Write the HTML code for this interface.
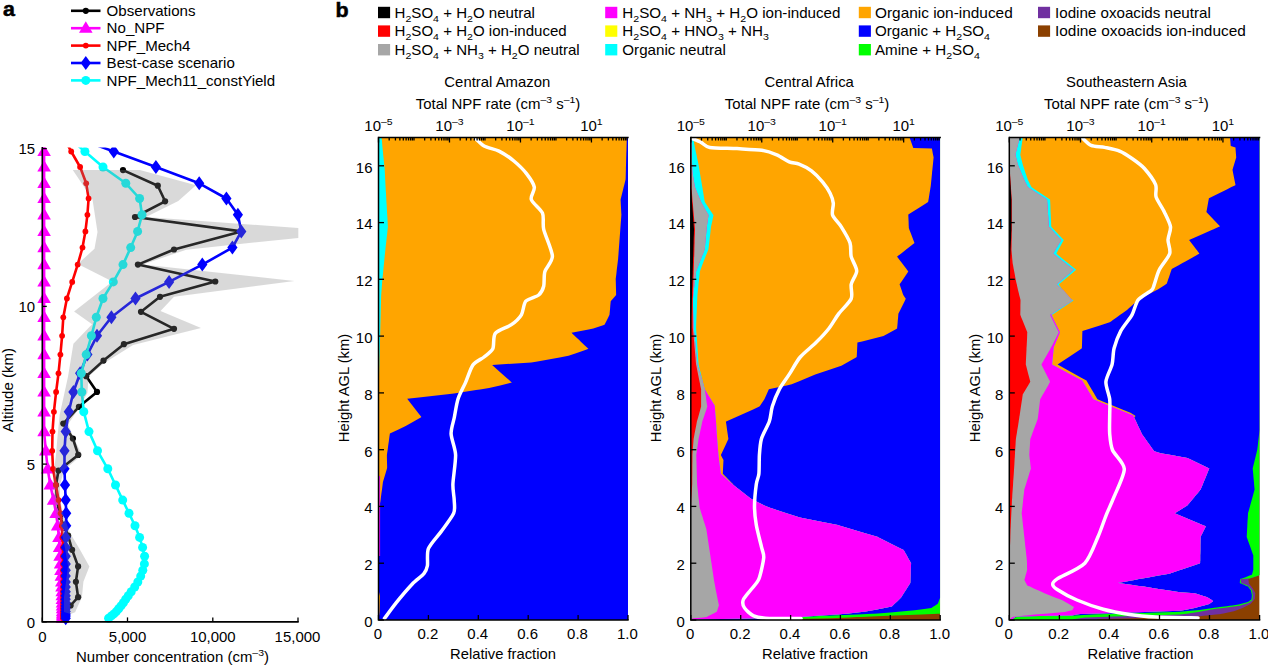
<!DOCTYPE html>
<html><head><meta charset="utf-8"><title>Figure</title>
<style>html,body{margin:0;padding:0;background:#fff;}body{width:1268px;height:665px;overflow:hidden;font-family:"Liberation Sans",sans-serif;}svg{display:block}text{font-family:"Liberation Sans",sans-serif;}</style>
</head><body>
<svg width="1268" height="665" viewBox="0 0 1268 665" font-family="Liberation Sans, sans-serif"><text transform="translate(3.00,16.30) scale(1.1,1)" text-anchor="start" font-size="19.5" font-weight="bold" fill="#000" stroke="#000" stroke-width="0.5">a</text>
<line x1="71" x2="100.5" y1="10.8" y2="10.8" stroke="#000" stroke-width="2.6"/>
<circle cx="85.8" cy="10.8" r="3.1" fill="#000"/>
<text transform="translate(106.60,16.00) scale(1.078,1)" text-anchor="start" font-size="14.0" font-weight="normal" fill="#000">Observations</text>
<line x1="71" x2="100.5" y1="28.2" y2="28.2" stroke="#ff00ff" stroke-width="2.6"/>
<polygon points="79.0,32.8 92.6,32.8 85.8,21.2" fill="#ff00ff"/>
<text transform="translate(106.60,33.40) scale(1.078,1)" text-anchor="start" font-size="14.0" font-weight="normal" fill="#000">No_NPF</text>
<line x1="71" x2="100.5" y1="45.6" y2="45.6" stroke="#ff0000" stroke-width="2.6"/>
<circle cx="85.8" cy="45.6" r="2.9" fill="#ff0000"/>
<text transform="translate(106.60,50.80) scale(1.078,1)" text-anchor="start" font-size="14.0" font-weight="normal" fill="#000">NPF_Mech4</text>
<line x1="71" x2="100.5" y1="63.0" y2="63.0" stroke="#0000ff" stroke-width="2.6"/>
<polygon points="80.7,63.0 85.8,56.0 90.9,63.0 85.8,70.0" fill="#0000ff"/>
<text transform="translate(106.60,68.20) scale(1.078,1)" text-anchor="start" font-size="14.0" font-weight="normal" fill="#000">Best-case scenario</text>
<line x1="71" x2="100.5" y1="80.4" y2="80.4" stroke="#00ffff" stroke-width="2.6"/>
<circle cx="85.8" cy="80.4" r="4.5" fill="#00ffff"/>
<text transform="translate(106.60,85.60) scale(1.078,1)" text-anchor="start" font-size="14.0" font-weight="normal" fill="#000">NPF_Mech11_constYield</text>
<clipPath id="ca"><rect x="30" y="147.4" width="276" height="486"/></clipPath>
<g clip-path="url(#ca)">
<polyline points="123.0,170.1 157.8,185.7 165.1,201.3 135.0,217.0 241.3,231.4 174.0,249.5 137.9,264.6 215.3,281.5 160.0,296.8 141.0,311.8 174.0,328.8 123.9,344.2 103.5,360.6 86.2,376.2 97.0,391.9 78.9,406.8 63.3,423.6 72.9,438.5 78.2,454.9 58.5,470.5 56.0,485.0 57.0,500.0 60.0,517.0 65.0,528.0 68.1,535.5 72.1,549.8 78.1,566.4 75.9,581.8 78.1,597.2 70.6,605.5 66.0,611.0" fill="none" stroke="#000" stroke-width="2.6" stroke-linejoin="round"/>
<circle cx="123.0" cy="170.1" r="3.1" fill="#000"/>
<circle cx="157.8" cy="185.7" r="3.1" fill="#000"/>
<circle cx="165.1" cy="201.3" r="3.1" fill="#000"/>
<circle cx="135.0" cy="217.0" r="3.1" fill="#000"/>
<circle cx="241.3" cy="231.4" r="3.1" fill="#000"/>
<circle cx="174.0" cy="249.5" r="3.1" fill="#000"/>
<circle cx="137.9" cy="264.6" r="3.1" fill="#000"/>
<circle cx="215.3" cy="281.5" r="3.1" fill="#000"/>
<circle cx="160.0" cy="296.8" r="3.1" fill="#000"/>
<circle cx="141.0" cy="311.8" r="3.1" fill="#000"/>
<circle cx="174.0" cy="328.8" r="3.1" fill="#000"/>
<circle cx="123.9" cy="344.2" r="3.1" fill="#000"/>
<circle cx="103.5" cy="360.6" r="3.1" fill="#000"/>
<circle cx="86.2" cy="376.2" r="3.1" fill="#000"/>
<circle cx="97.0" cy="391.9" r="3.1" fill="#000"/>
<circle cx="78.9" cy="406.8" r="3.1" fill="#000"/>
<circle cx="63.3" cy="423.6" r="3.1" fill="#000"/>
<circle cx="72.9" cy="438.5" r="3.1" fill="#000"/>
<circle cx="78.2" cy="454.9" r="3.1" fill="#000"/>
<circle cx="58.5" cy="470.5" r="3.1" fill="#000"/>
<circle cx="56.0" cy="485.0" r="3.1" fill="#000"/>
<circle cx="57.0" cy="500.0" r="3.1" fill="#000"/>
<circle cx="60.0" cy="517.0" r="3.1" fill="#000"/>
<circle cx="65.0" cy="528.0" r="3.1" fill="#000"/>
<circle cx="68.1" cy="535.5" r="3.1" fill="#000"/>
<circle cx="72.1" cy="549.8" r="3.1" fill="#000"/>
<circle cx="78.1" cy="566.4" r="3.1" fill="#000"/>
<circle cx="75.9" cy="581.8" r="3.1" fill="#000"/>
<circle cx="78.1" cy="597.2" r="3.1" fill="#000"/>
<circle cx="70.6" cy="605.5" r="3.1" fill="#000"/>
<circle cx="66.0" cy="611.0" r="3.1" fill="#000"/>
<polyline points="44.1,140.0 44.1,151.5 44.1,167.0 44.1,183.3 44.1,198.5 44.1,214.8 44.1,231.4 44.1,247.6 44.1,264.6 44.1,281.9 44.1,298.5 44.1,317.3 44.1,335.8 44.1,354.6 44.1,373.3 44.1,392.0 44.1,411.8 44.1,431.6 45.8,450.8 47.7,468.8 50.3,485.0 53.6,500.1 56.1,513.3 57.7,525.8 59.0,537.4 59.6,547.4 60.1,556.2 60.6,563.9 61.0,570.3 61.4,576.1 61.8,582.0 62.0,587.0 62.2,591.7 62.3,595.7 62.4,599.3 62.5,602.8 62.5,605.9 62.6,608.7 62.6,611.6 62.6,613.9 62.6,615.9 62.6,618.2" fill="none" stroke="#ff00ff" stroke-width="2.6" stroke-linejoin="round"/>
<polygon points="37.3,156.1 50.9,156.1 44.1,144.5" fill="#ff00ff"/>
<polygon points="37.3,171.6 50.9,171.6 44.1,160.0" fill="#ff00ff"/>
<polygon points="37.3,187.9 50.9,187.9 44.1,176.3" fill="#ff00ff"/>
<polygon points="37.3,203.1 50.9,203.1 44.1,191.5" fill="#ff00ff"/>
<polygon points="37.3,219.4 50.9,219.4 44.1,207.8" fill="#ff00ff"/>
<polygon points="37.3,236.0 50.9,236.0 44.1,224.4" fill="#ff00ff"/>
<polygon points="37.3,252.2 50.9,252.2 44.1,240.6" fill="#ff00ff"/>
<polygon points="37.3,269.2 50.9,269.2 44.1,257.6" fill="#ff00ff"/>
<polygon points="37.3,286.5 50.9,286.5 44.1,274.9" fill="#ff00ff"/>
<polygon points="37.3,303.1 50.9,303.1 44.1,291.5" fill="#ff00ff"/>
<polygon points="37.3,321.9 50.9,321.9 44.1,310.3" fill="#ff00ff"/>
<polygon points="37.3,340.4 50.9,340.4 44.1,328.8" fill="#ff00ff"/>
<polygon points="37.3,359.2 50.9,359.2 44.1,347.6" fill="#ff00ff"/>
<polygon points="37.3,377.9 50.9,377.9 44.1,366.3" fill="#ff00ff"/>
<polygon points="37.3,396.6 50.9,396.6 44.1,385.0" fill="#ff00ff"/>
<polygon points="37.3,416.4 50.9,416.4 44.1,404.8" fill="#ff00ff"/>
<polygon points="37.3,436.2 50.9,436.2 44.1,424.6" fill="#ff00ff"/>
<polygon points="39.0,455.4 52.6,455.4 45.8,443.8" fill="#ff00ff"/>
<polygon points="40.9,473.4 54.5,473.4 47.7,461.8" fill="#ff00ff"/>
<polygon points="43.5,489.6 57.1,489.6 50.3,478.0" fill="#ff00ff"/>
<polygon points="46.8,504.7 60.4,504.7 53.6,493.1" fill="#ff00ff"/>
<polygon points="49.3,517.9 62.9,517.9 56.1,506.3" fill="#ff00ff"/>
<polygon points="50.9,530.4 64.5,530.4 57.7,518.8" fill="#ff00ff"/>
<polygon points="52.2,542.0 65.8,542.0 59.0,530.4" fill="#ff00ff"/>
<polygon points="52.8,552.0 66.4,552.0 59.6,540.4" fill="#ff00ff"/>
<polygon points="53.3,560.8 66.9,560.8 60.1,549.2" fill="#ff00ff"/>
<polygon points="53.8,568.5 67.4,568.5 60.6,556.9" fill="#ff00ff"/>
<polygon points="54.2,574.9 67.8,574.9 61.0,563.3" fill="#ff00ff"/>
<polygon points="54.6,580.7 68.2,580.7 61.4,569.1" fill="#ff00ff"/>
<polygon points="55.0,586.6 68.6,586.6 61.8,575.0" fill="#ff00ff"/>
<polygon points="55.2,591.6 68.8,591.6 62.0,580.0" fill="#ff00ff"/>
<polygon points="55.4,596.3 69.0,596.3 62.2,584.7" fill="#ff00ff"/>
<polygon points="55.5,600.3 69.1,600.3 62.3,588.7" fill="#ff00ff"/>
<polygon points="55.6,603.9 69.2,603.9 62.4,592.3" fill="#ff00ff"/>
<polygon points="55.7,607.4 69.3,607.4 62.5,595.8" fill="#ff00ff"/>
<polygon points="55.7,610.5 69.3,610.5 62.5,598.9" fill="#ff00ff"/>
<polygon points="55.8,613.3 69.4,613.3 62.6,601.7" fill="#ff00ff"/>
<polygon points="55.8,616.2 69.4,616.2 62.6,604.6" fill="#ff00ff"/>
<polygon points="55.8,618.5 69.4,618.5 62.6,606.9" fill="#ff00ff"/>
<polygon points="55.8,620.5 69.4,620.5 62.6,608.9" fill="#ff00ff"/>
<polygon points="55.8,622.8 69.4,622.8 62.6,611.2" fill="#ff00ff"/>
<polyline points="64.0,138.0 71.2,151.5 80.1,167.0 86.2,183.3 88.6,198.5 87.4,214.8 85.4,231.4 82.5,247.6 77.7,264.6 72.2,281.9 66.9,298.5 63.3,317.3 62.1,335.8 60.4,354.6 58.5,373.3 56.1,392.0 53.9,411.8 52.5,431.6 52.2,450.8 53.0,468.8 55.9,485.0 58.6,500.1 60.6,513.3 61.8,525.8 62.4,537.4 63.0,547.4 63.0,556.2 63.0,563.9 63.0,570.3 63.0,576.1 63.0,582.0 63.0,587.0 63.0,591.7 63.0,595.7 63.0,599.3 63.0,602.8 63.0,605.9 63.0,608.7 63.0,611.6 63.0,613.9 63.0,615.9 63.0,618.2" fill="none" stroke="#ff0000" stroke-width="2.6" stroke-linejoin="round"/>
<circle cx="71.2" cy="151.5" r="2.9" fill="#ff0000"/>
<circle cx="80.1" cy="167.0" r="2.9" fill="#ff0000"/>
<circle cx="86.2" cy="183.3" r="2.9" fill="#ff0000"/>
<circle cx="88.6" cy="198.5" r="2.9" fill="#ff0000"/>
<circle cx="87.4" cy="214.8" r="2.9" fill="#ff0000"/>
<circle cx="85.4" cy="231.4" r="2.9" fill="#ff0000"/>
<circle cx="82.5" cy="247.6" r="2.9" fill="#ff0000"/>
<circle cx="77.7" cy="264.6" r="2.9" fill="#ff0000"/>
<circle cx="72.2" cy="281.9" r="2.9" fill="#ff0000"/>
<circle cx="66.9" cy="298.5" r="2.9" fill="#ff0000"/>
<circle cx="63.3" cy="317.3" r="2.9" fill="#ff0000"/>
<circle cx="62.1" cy="335.8" r="2.9" fill="#ff0000"/>
<circle cx="60.4" cy="354.6" r="2.9" fill="#ff0000"/>
<circle cx="58.5" cy="373.3" r="2.9" fill="#ff0000"/>
<circle cx="56.1" cy="392.0" r="2.9" fill="#ff0000"/>
<circle cx="53.9" cy="411.8" r="2.9" fill="#ff0000"/>
<circle cx="52.5" cy="431.6" r="2.9" fill="#ff0000"/>
<circle cx="52.2" cy="450.8" r="2.9" fill="#ff0000"/>
<circle cx="53.0" cy="468.8" r="2.9" fill="#ff0000"/>
<circle cx="55.9" cy="485.0" r="2.9" fill="#ff0000"/>
<circle cx="58.6" cy="500.1" r="2.9" fill="#ff0000"/>
<circle cx="60.6" cy="513.3" r="2.9" fill="#ff0000"/>
<circle cx="61.8" cy="525.8" r="2.9" fill="#ff0000"/>
<circle cx="62.4" cy="537.4" r="2.9" fill="#ff0000"/>
<circle cx="63.0" cy="547.4" r="2.9" fill="#ff0000"/>
<circle cx="63.0" cy="556.2" r="2.9" fill="#ff0000"/>
<circle cx="63.0" cy="563.9" r="2.9" fill="#ff0000"/>
<circle cx="63.0" cy="570.3" r="2.9" fill="#ff0000"/>
<circle cx="63.0" cy="576.1" r="2.9" fill="#ff0000"/>
<circle cx="63.0" cy="582.0" r="2.9" fill="#ff0000"/>
<circle cx="63.0" cy="587.0" r="2.9" fill="#ff0000"/>
<circle cx="63.0" cy="591.7" r="2.9" fill="#ff0000"/>
<circle cx="63.0" cy="595.7" r="2.9" fill="#ff0000"/>
<circle cx="63.0" cy="599.3" r="2.9" fill="#ff0000"/>
<circle cx="63.0" cy="602.8" r="2.9" fill="#ff0000"/>
<circle cx="63.0" cy="605.9" r="2.9" fill="#ff0000"/>
<circle cx="63.0" cy="608.7" r="2.9" fill="#ff0000"/>
<circle cx="63.0" cy="611.6" r="2.9" fill="#ff0000"/>
<circle cx="63.0" cy="613.9" r="2.9" fill="#ff0000"/>
<circle cx="63.0" cy="615.9" r="2.9" fill="#ff0000"/>
<circle cx="63.0" cy="618.2" r="2.9" fill="#ff0000"/>
<polyline points="78.0,138.5 113.8,151.5 155.9,167.0 199.2,183.3 226.4,198.5 237.9,214.8 241.3,231.4 232.4,247.6 202.3,264.6 169.1,281.9 135.5,298.5 111.4,317.3 97.0,335.8 87.4,354.6 80.1,373.3 73.4,392.0 68.8,411.8 65.7,431.6 64.5,450.8 64.5,468.8 65.0,485.0 65.7,500.1 66.2,513.3 66.2,525.8 65.7,537.4 65.7,547.4 65.7,556.2 65.7,563.9 65.7,570.3 65.7,576.1 65.7,582.0 65.7,587.0 65.7,591.7 65.7,595.7 65.7,599.3 65.7,602.8 65.7,605.9 65.7,608.7 65.7,611.6 65.7,613.9 65.7,615.9 65.7,618.2" fill="none" stroke="#0000ff" stroke-width="2.6" stroke-linejoin="round"/>
<polygon points="108.7,151.5 113.8,144.5 118.9,151.5 113.8,158.5" fill="#0000ff"/>
<polygon points="150.8,167.0 155.9,160.0 161.0,167.0 155.9,174.0" fill="#0000ff"/>
<polygon points="194.1,183.3 199.2,176.3 204.3,183.3 199.2,190.3" fill="#0000ff"/>
<polygon points="221.3,198.5 226.4,191.5 231.5,198.5 226.4,205.5" fill="#0000ff"/>
<polygon points="232.8,214.8 237.9,207.8 243.0,214.8 237.9,221.8" fill="#0000ff"/>
<polygon points="236.2,231.4 241.3,224.4 246.4,231.4 241.3,238.4" fill="#0000ff"/>
<polygon points="227.3,247.6 232.4,240.6 237.5,247.6 232.4,254.6" fill="#0000ff"/>
<polygon points="197.2,264.6 202.3,257.6 207.4,264.6 202.3,271.6" fill="#0000ff"/>
<polygon points="164.0,281.9 169.1,274.9 174.2,281.9 169.1,288.9" fill="#0000ff"/>
<polygon points="130.4,298.5 135.5,291.5 140.6,298.5 135.5,305.5" fill="#0000ff"/>
<polygon points="106.3,317.3 111.4,310.3 116.5,317.3 111.4,324.3" fill="#0000ff"/>
<polygon points="91.9,335.8 97.0,328.8 102.1,335.8 97.0,342.8" fill="#0000ff"/>
<polygon points="82.3,354.6 87.4,347.6 92.5,354.6 87.4,361.6" fill="#0000ff"/>
<polygon points="75.0,373.3 80.1,366.3 85.2,373.3 80.1,380.3" fill="#0000ff"/>
<polygon points="68.3,392.0 73.4,385.0 78.5,392.0 73.4,399.0" fill="#0000ff"/>
<polygon points="63.7,411.8 68.8,404.8 73.9,411.8 68.8,418.8" fill="#0000ff"/>
<polygon points="60.6,431.6 65.7,424.6 70.8,431.6 65.7,438.6" fill="#0000ff"/>
<polygon points="59.4,450.8 64.5,443.8 69.6,450.8 64.5,457.8" fill="#0000ff"/>
<polygon points="59.4,468.8 64.5,461.8 69.6,468.8 64.5,475.8" fill="#0000ff"/>
<polygon points="59.9,485.0 65.0,478.0 70.1,485.0 65.0,492.0" fill="#0000ff"/>
<polygon points="60.6,500.1 65.7,493.1 70.8,500.1 65.7,507.1" fill="#0000ff"/>
<polygon points="61.1,513.3 66.2,506.3 71.3,513.3 66.2,520.3" fill="#0000ff"/>
<polygon points="61.1,525.8 66.2,518.8 71.3,525.8 66.2,532.8" fill="#0000ff"/>
<polygon points="60.6,537.4 65.7,530.4 70.8,537.4 65.7,544.4" fill="#0000ff"/>
<polygon points="60.6,547.4 65.7,540.4 70.8,547.4 65.7,554.4" fill="#0000ff"/>
<polygon points="60.6,556.2 65.7,549.2 70.8,556.2 65.7,563.2" fill="#0000ff"/>
<polygon points="60.6,563.9 65.7,556.9 70.8,563.9 65.7,570.9" fill="#0000ff"/>
<polygon points="60.6,570.3 65.7,563.3 70.8,570.3 65.7,577.3" fill="#0000ff"/>
<polygon points="60.6,576.1 65.7,569.1 70.8,576.1 65.7,583.1" fill="#0000ff"/>
<polygon points="60.6,582.0 65.7,575.0 70.8,582.0 65.7,589.0" fill="#0000ff"/>
<polygon points="60.6,587.0 65.7,580.0 70.8,587.0 65.7,594.0" fill="#0000ff"/>
<polygon points="60.6,591.7 65.7,584.7 70.8,591.7 65.7,598.7" fill="#0000ff"/>
<polygon points="60.6,595.7 65.7,588.7 70.8,595.7 65.7,602.7" fill="#0000ff"/>
<polygon points="60.6,599.3 65.7,592.3 70.8,599.3 65.7,606.3" fill="#0000ff"/>
<polygon points="60.6,602.8 65.7,595.8 70.8,602.8 65.7,609.8" fill="#0000ff"/>
<polygon points="60.6,605.9 65.7,598.9 70.8,605.9 65.7,612.9" fill="#0000ff"/>
<polygon points="60.6,608.7 65.7,601.7 70.8,608.7 65.7,615.7" fill="#0000ff"/>
<polygon points="60.6,611.6 65.7,604.6 70.8,611.6 65.7,618.6" fill="#0000ff"/>
<polygon points="60.6,613.9 65.7,606.9 70.8,613.9 65.7,620.9" fill="#0000ff"/>
<polygon points="60.6,615.9 65.7,608.9 70.8,615.9 65.7,622.9" fill="#0000ff"/>
<polygon points="60.6,618.2 65.7,611.2 70.8,618.2 65.7,625.2" fill="#0000ff"/>
<polyline points="70.0,138.5 84.9,151.5 103.0,167.0 125.8,183.3 139.6,198.5 142.0,214.8 137.6,231.4 130.7,247.6 123.0,264.6 113.3,281.9 103.0,298.5 96.3,317.3 91.4,335.8 86.2,354.6 81.3,373.3 81.8,392.0 83.8,411.8 89.0,431.6 97.5,450.8 107.8,468.8 115.5,485.0 122.7,500.1 129.0,513.3 135.0,525.8 139.6,537.4 142.6,547.4 144.6,556.2 144.4,563.9 142.8,570.3 140.7,576.1 137.8,582.0 134.7,587.0 131.2,591.7 128.3,595.7 125.7,599.3 123.4,602.8 121.0,605.9 118.7,608.7 116.3,611.6 113.9,613.9 111.4,615.9 108.6,618.2" fill="none" stroke="#00ffff" stroke-width="2.6" stroke-linejoin="round"/>
<circle cx="84.9" cy="151.5" r="4.5" fill="#00ffff"/>
<circle cx="103.0" cy="167.0" r="4.5" fill="#00ffff"/>
<circle cx="125.8" cy="183.3" r="4.5" fill="#00ffff"/>
<circle cx="139.6" cy="198.5" r="4.5" fill="#00ffff"/>
<circle cx="142.0" cy="214.8" r="4.5" fill="#00ffff"/>
<circle cx="137.6" cy="231.4" r="4.5" fill="#00ffff"/>
<circle cx="130.7" cy="247.6" r="4.5" fill="#00ffff"/>
<circle cx="123.0" cy="264.6" r="4.5" fill="#00ffff"/>
<circle cx="113.3" cy="281.9" r="4.5" fill="#00ffff"/>
<circle cx="103.0" cy="298.5" r="4.5" fill="#00ffff"/>
<circle cx="96.3" cy="317.3" r="4.5" fill="#00ffff"/>
<circle cx="91.4" cy="335.8" r="4.5" fill="#00ffff"/>
<circle cx="86.2" cy="354.6" r="4.5" fill="#00ffff"/>
<circle cx="81.3" cy="373.3" r="4.5" fill="#00ffff"/>
<circle cx="81.8" cy="392.0" r="4.5" fill="#00ffff"/>
<circle cx="83.8" cy="411.8" r="4.5" fill="#00ffff"/>
<circle cx="89.0" cy="431.6" r="4.5" fill="#00ffff"/>
<circle cx="97.5" cy="450.8" r="4.5" fill="#00ffff"/>
<circle cx="107.8" cy="468.8" r="4.5" fill="#00ffff"/>
<circle cx="115.5" cy="485.0" r="4.5" fill="#00ffff"/>
<circle cx="122.7" cy="500.1" r="4.5" fill="#00ffff"/>
<circle cx="129.0" cy="513.3" r="4.5" fill="#00ffff"/>
<circle cx="135.0" cy="525.8" r="4.5" fill="#00ffff"/>
<circle cx="139.6" cy="537.4" r="4.5" fill="#00ffff"/>
<circle cx="142.6" cy="547.4" r="4.5" fill="#00ffff"/>
<circle cx="144.6" cy="556.2" r="4.5" fill="#00ffff"/>
<circle cx="144.4" cy="563.9" r="4.5" fill="#00ffff"/>
<circle cx="142.8" cy="570.3" r="4.5" fill="#00ffff"/>
<circle cx="140.7" cy="576.1" r="4.5" fill="#00ffff"/>
<circle cx="137.8" cy="582.0" r="4.5" fill="#00ffff"/>
<circle cx="134.7" cy="587.0" r="4.5" fill="#00ffff"/>
<circle cx="131.2" cy="591.7" r="4.5" fill="#00ffff"/>
<circle cx="128.3" cy="595.7" r="4.5" fill="#00ffff"/>
<circle cx="125.7" cy="599.3" r="4.5" fill="#00ffff"/>
<circle cx="123.4" cy="602.8" r="4.5" fill="#00ffff"/>
<circle cx="121.0" cy="605.9" r="4.5" fill="#00ffff"/>
<circle cx="118.7" cy="608.7" r="4.5" fill="#00ffff"/>
<circle cx="116.3" cy="611.6" r="4.5" fill="#00ffff"/>
<circle cx="113.9" cy="613.9" r="4.5" fill="#00ffff"/>
<circle cx="111.4" cy="615.9" r="4.5" fill="#00ffff"/>
<circle cx="108.6" cy="618.2" r="4.5" fill="#00ffff"/>
</g>
<polygon points="139.9,169.9 196.0,185.2 178.3,201.0 146.0,217.0 298.3,228.0 298.3,237.9 186.2,249.7 142.8,264.5 294.4,281.0 174.0,296.8 160.5,310.9 201.0,328.1 133.1,345.0 104.2,363.0 88.6,376.2 87.4,393.1 77.7,409.9 68.1,424.3 74.1,438.8 82.0,455.0 64.0,470.0 60.0,485.0 60.0,500.0 64.0,517.0 70.6,534.0 79.6,549.0 89.4,566.4 83.4,581.8 81.9,597.2 75.1,612.2 70.6,614.0 64.0,612.0 64.0,597.0 66.0,582.0 68.0,566.0 65.0,548.0 61.0,530.0 57.0,517.0 54.0,500.0 53.0,485.0 54.0,470.0 56.0,455.0 57.3,438.8 59.7,414.7 68.1,376.2 73.4,343.7 92.1,324.2 74.1,311.4 112.4,281.4 77.8,264.1 94.5,248.7 97.5,232.0 92.5,199.4 72.8,169.9" fill="rgb(128,128,128)" fill-opacity="0.3"/>
<path d="M42.3,147.1 V621.9 H298.7" fill="none" stroke="#000" stroke-width="1.6"/>
<line x1="42.3" x2="46.8" y1="621.9" y2="621.9" stroke="#000" stroke-width="1.3"/>
<text transform="translate(35.20,628.30) scale(1.07,1)" text-anchor="end" font-size="14.0" font-weight="normal" fill="#000">0</text>
<line x1="42.3" x2="46.8" y1="464.1" y2="464.1" stroke="#000" stroke-width="1.3"/>
<text transform="translate(35.20,469.80) scale(1.07,1)" text-anchor="end" font-size="14.0" font-weight="normal" fill="#000">5</text>
<line x1="42.3" x2="46.8" y1="306.4" y2="306.4" stroke="#000" stroke-width="1.3"/>
<text transform="translate(35.20,311.60) scale(1.07,1)" text-anchor="end" font-size="14.0" font-weight="normal" fill="#000">10</text>
<line x1="42.3" x2="46.8" y1="148.6" y2="148.6" stroke="#000" stroke-width="1.3"/>
<text transform="translate(35.20,153.50) scale(1.07,1)" text-anchor="end" font-size="14.0" font-weight="normal" fill="#000">15</text>
<line x1="42.3" x2="42.3" y1="621.9" y2="617.4" stroke="#000" stroke-width="1.3"/>
<text transform="translate(42.30,641.50) scale(1.07,1)" text-anchor="middle" font-size="14.0" font-weight="normal" fill="#000">0</text>
<line x1="127.5" x2="127.5" y1="621.9" y2="617.4" stroke="#000" stroke-width="1.3"/>
<text transform="translate(127.53,641.50) scale(1.07,1)" text-anchor="middle" font-size="14.0" font-weight="normal" fill="#000">5,000</text>
<line x1="212.8" x2="212.8" y1="621.9" y2="617.4" stroke="#000" stroke-width="1.3"/>
<text transform="translate(212.77,641.50) scale(1.07,1)" text-anchor="middle" font-size="14.0" font-weight="normal" fill="#000">10,000</text>
<line x1="298.0" x2="298.0" y1="621.9" y2="617.4" stroke="#000" stroke-width="1.3"/>
<text transform="translate(297.50,641.50) scale(1.07,1)" text-anchor="middle" font-size="14.0" font-weight="normal" fill="#000">15,000</text>
<text transform="translate(172.50,661.50) scale(1.07,1)" text-anchor="middle" font-size="14.0" font-weight="normal" fill="#000">Number concentration (cm<tspan font-size="9.8" dy="-5.6">&#8211;3</tspan><tspan dy="5.6" font-size="14.0">&#8203;</tspan>)</text>
<text transform="translate(12.50,390.20) rotate(-90) scale(1.073,1)" text-anchor="middle" font-size="14.0" font-weight="normal" fill="#000">Altitude (km)</text>
<text transform="translate(335.60,16.50) scale(1.1,1)" text-anchor="start" font-size="19.5" font-weight="bold" fill="#000" stroke="#000" stroke-width="0.5">b</text>
<rect x="378" y="6.8" width="12.1" height="11.4" fill="#000"/>
<text transform="translate(394.60,17.80) scale(1.077,1)" text-anchor="start" font-size="14.0" font-weight="normal" fill="#000">H<tspan font-size="9.8" dy="3.8">2</tspan><tspan dy="-3.8" font-size="14.0">&#8203;</tspan>SO<tspan font-size="9.8" dy="3.8">4</tspan><tspan dy="-3.8" font-size="14.0">&#8203;</tspan> + H<tspan font-size="9.8" dy="3.8">2</tspan><tspan dy="-3.8" font-size="14.0">&#8203;</tspan>O neutral</text>
<rect x="378" y="25.4" width="12.1" height="11.4" fill="#ff0000"/>
<text transform="translate(394.60,36.40) scale(1.077,1)" text-anchor="start" font-size="14.0" font-weight="normal" fill="#000">H<tspan font-size="9.8" dy="3.8">2</tspan><tspan dy="-3.8" font-size="14.0">&#8203;</tspan>SO<tspan font-size="9.8" dy="3.8">4</tspan><tspan dy="-3.8" font-size="14.0">&#8203;</tspan> + H<tspan font-size="9.8" dy="3.8">2</tspan><tspan dy="-3.8" font-size="14.0">&#8203;</tspan>O ion-induced</text>
<rect x="378" y="44.0" width="12.1" height="11.4" fill="#a6a6a6"/>
<text transform="translate(394.60,55.00) scale(1.077,1)" text-anchor="start" font-size="14.0" font-weight="normal" fill="#000">H<tspan font-size="9.8" dy="3.8">2</tspan><tspan dy="-3.8" font-size="14.0">&#8203;</tspan>SO<tspan font-size="9.8" dy="3.8">4</tspan><tspan dy="-3.8" font-size="14.0">&#8203;</tspan> + NH<tspan font-size="9.8" dy="3.8">3</tspan><tspan dy="-3.8" font-size="14.0">&#8203;</tspan> + H<tspan font-size="9.8" dy="3.8">2</tspan><tspan dy="-3.8" font-size="14.0">&#8203;</tspan>O neutral</text>
<rect x="605.2" y="6.8" width="12.1" height="11.4" fill="#ff00ff"/>
<text transform="translate(622.30,17.80) scale(1.083,1)" text-anchor="start" font-size="14.0" font-weight="normal" fill="#000">H<tspan font-size="9.8" dy="3.8">2</tspan><tspan dy="-3.8" font-size="14.0">&#8203;</tspan>SO<tspan font-size="9.8" dy="3.8">4</tspan><tspan dy="-3.8" font-size="14.0">&#8203;</tspan> + NH<tspan font-size="9.8" dy="3.8">3</tspan><tspan dy="-3.8" font-size="14.0">&#8203;</tspan> + H<tspan font-size="9.8" dy="3.8">2</tspan><tspan dy="-3.8" font-size="14.0">&#8203;</tspan>O ion-induced</text>
<rect x="605.2" y="25.4" width="12.1" height="11.4" fill="#ffff00"/>
<text transform="translate(622.30,36.40) scale(1.083,1)" text-anchor="start" font-size="14.0" font-weight="normal" fill="#000">H<tspan font-size="9.8" dy="3.8">2</tspan><tspan dy="-3.8" font-size="14.0">&#8203;</tspan>SO<tspan font-size="9.8" dy="3.8">4</tspan><tspan dy="-3.8" font-size="14.0">&#8203;</tspan> + HNO<tspan font-size="9.8" dy="3.8">3</tspan><tspan dy="-3.8" font-size="14.0">&#8203;</tspan> + NH<tspan font-size="9.8" dy="3.8">3</tspan><tspan dy="-3.8" font-size="14.0">&#8203;</tspan></text>
<rect x="605.2" y="44.0" width="12.1" height="11.4" fill="#00ffff"/>
<text transform="translate(622.30,55.00) scale(1.083,1)" text-anchor="start" font-size="14.0" font-weight="normal" fill="#000">Organic neutral</text>
<rect x="858.8" y="6.8" width="12.1" height="11.4" fill="#ffa500"/>
<text transform="translate(875.00,17.80) scale(1.1,1)" text-anchor="start" font-size="14.0" font-weight="normal" fill="#000">Organic ion-induced</text>
<rect x="858.8" y="25.4" width="12.1" height="11.4" fill="#0000ff"/>
<text transform="translate(875.00,36.40) scale(1.083,1)" text-anchor="start" font-size="14.0" font-weight="normal" fill="#000">Organic + H<tspan font-size="9.8" dy="3.8">2</tspan><tspan dy="-3.8" font-size="14.0">&#8203;</tspan>SO<tspan font-size="9.8" dy="3.8">4</tspan><tspan dy="-3.8" font-size="14.0">&#8203;</tspan></text>
<rect x="858.8" y="44.0" width="12.1" height="11.4" fill="#00ff00"/>
<text transform="translate(875.00,55.00) scale(1.083,1)" text-anchor="start" font-size="14.0" font-weight="normal" fill="#000">Amine + H<tspan font-size="9.8" dy="3.8">2</tspan><tspan dy="-3.8" font-size="14.0">&#8203;</tspan>SO<tspan font-size="9.8" dy="3.8">4</tspan><tspan dy="-3.8" font-size="14.0">&#8203;</tspan></text>
<rect x="1038" y="6.8" width="12.1" height="11.4" fill="#7030a0"/>
<text transform="translate(1055.00,17.80) scale(1.083,1)" text-anchor="start" font-size="14.0" font-weight="normal" fill="#000">Iodine oxoacids neutral</text>
<rect x="1038" y="25.4" width="12.1" height="11.4" fill="#8b4000"/>
<text transform="translate(1055.00,36.40) scale(1.1,1)" text-anchor="start" font-size="14.0" font-weight="normal" fill="#000">Iodine oxoacids ion-induced</text>
<clipPath id="c378"><rect x="378.5" y="137.4" width="249.5" height="482.6"/></clipPath>
<g clip-path="url(#c378)">
<polygon points="378.5,137.4 628.0,137.4 628.0,141.4 628.0,145.4 628.0,149.4 628.0,153.4 628.0,155.0 628.0,157.4 628.0,161.4 628.0,165.4 628.0,168.0 628.0,169.4 628.0,173.4 628.0,177.4 628.0,179.6 628.0,181.4 628.0,185.4 628.0,187.0 628.0,189.4 628.0,193.4 628.0,197.4 628.0,199.5 628.0,201.4 628.0,205.4 628.0,209.4 628.0,213.4 628.0,214.4 628.0,217.4 628.0,221.4 628.0,225.4 628.0,226.8 628.0,229.4 628.0,233.4 628.0,237.4 628.0,241.4 628.0,241.7 628.0,245.4 628.0,249.4 628.0,253.4 628.0,254.0 628.0,257.4 628.0,259.0 628.0,261.4 628.0,265.4 628.0,269.4 628.0,273.4 628.0,277.4 628.0,278.9 628.0,279.0 628.0,281.4 628.0,285.4 628.0,289.4 628.0,293.4 628.0,295.0 628.0,297.4 628.0,301.2 628.0,301.4 628.0,305.4 628.0,309.4 628.0,313.4 628.0,314.8 628.0,317.4 628.0,321.4 628.0,324.7 628.0,325.4 628.0,328.5 628.0,329.4 628.0,332.7 628.0,333.4 628.0,337.4 628.0,340.0 628.0,341.4 628.0,345.4 628.0,348.8 628.0,349.4 628.0,353.4 628.0,355.8 628.0,357.4 628.0,361.4 628.0,362.5 628.0,364.9 628.0,365.4 628.0,369.4 628.0,373.4 628.0,377.4 628.0,381.4 628.0,382.6 628.0,385.4 628.0,388.0 628.0,389.4 628.0,390.0 628.0,393.4 628.0,393.7 628.0,397.4 628.0,398.7 628.0,401.4 628.0,405.4 628.0,409.4 628.0,413.4 628.0,417.0 628.0,417.4 628.0,421.4 628.0,425.4 628.0,426.5 628.0,429.4 628.0,433.4 628.0,437.4 628.0,441.4 628.0,445.4 628.0,449.4 628.0,453.4 628.0,455.0 628.0,457.4 628.0,461.4 628.0,465.4 628.0,468.0 628.0,469.4 628.0,473.4 628.0,477.4 628.0,481.4 628.0,481.6 628.0,485.4 628.0,489.4 628.0,493.4 628.0,497.4 628.0,501.4 628.0,502.0 628.0,505.4 628.0,509.4 628.0,510.0 628.0,513.4 628.0,517.4 628.0,521.4 628.0,525.4 628.0,529.4 628.0,533.4 628.0,537.4 628.0,541.4 628.0,545.4 628.0,549.4 628.0,553.4 628.0,557.4 628.0,561.4 628.0,565.4 628.0,569.4 628.0,573.4 628.0,577.4 628.0,581.4 628.0,585.4 628.0,589.4 628.0,590.0 628.0,593.4 628.0,596.0 628.0,597.4 628.0,601.4 628.0,605.4 628.0,609.4 628.0,612.0 628.0,613.4 628.0,617.4 628.0,619.5 628.0,620.0 378.5,620.0" fill="#0000ff"/>
<polygon points="378.5,137.4 626.8,137.4 626.7,141.4 626.6,145.4 626.5,149.4 626.3,153.4 626.3,155.0 626.2,157.4 626.1,161.4 626.0,165.4 625.9,168.0 625.9,169.4 625.8,173.4 625.7,177.4 625.6,179.6 625.1,181.4 624.1,185.4 623.7,187.0 623.1,189.4 622.1,193.4 621.1,197.4 620.6,199.5 620.7,201.4 620.9,205.4 621.1,209.4 621.3,213.4 621.4,214.4 621.2,217.4 620.9,221.4 620.6,225.4 620.5,226.8 620.3,229.4 620.0,233.4 619.7,237.4 619.4,241.4 619.4,241.7 619.1,245.4 618.8,249.4 618.5,253.4 618.5,254.0 618.2,257.4 618.1,259.0 617.8,261.4 617.3,265.4 616.8,269.4 616.4,273.4 615.9,277.4 615.7,278.9 615.7,279.0 615.8,281.4 615.9,285.4 616.0,289.4 616.1,293.4 616.1,295.0 614.0,297.4 610.7,301.2 610.7,301.4 610.3,305.4 610.0,309.4 609.6,313.4 609.5,314.8 608.2,317.4 606.2,321.4 604.5,324.7 602.4,325.4 593.3,328.5 588.6,329.4 571.5,332.7 572.2,333.4 576.4,337.4 579.2,340.0 580.6,341.4 584.8,345.4 588.4,348.8 586.7,349.4 575.3,353.4 568.5,355.8 559.6,357.4 537.4,361.4 531.3,362.5 492.1,364.9 492.7,365.4 497.1,369.4 501.6,373.4 506.1,377.4 510.6,381.4 511.9,382.6 500.1,385.4 489.1,388.0 480.0,389.4 476.0,390.0 453.9,393.4 451.9,393.7 418.8,397.4 407.2,398.7 409.3,401.4 412.4,405.4 415.5,409.4 418.6,413.4 421.4,417.0 420.7,417.4 413.7,421.4 406.6,425.4 404.7,426.5 398.5,429.4 389.9,433.4 389.3,437.4 388.8,441.4 388.2,445.4 387.7,449.4 387.1,453.4 386.9,455.0 386.9,457.4 387.0,461.4 387.1,465.4 387.1,468.0 386.7,469.4 385.5,473.4 384.3,477.4 383.1,481.4 383.0,481.6 382.5,485.4 382.0,489.4 381.4,493.4 380.9,497.4 380.4,501.4 380.3,502.0 379.5,505.4 378.6,509.4 378.6,510.0 378.6,513.4 378.6,517.4 378.6,521.4 378.6,525.4 378.6,529.4 378.6,533.4 378.6,537.4 378.6,541.4 378.6,545.4 378.6,549.4 378.6,553.4 378.6,557.4 378.6,561.4 378.5,565.4 378.5,569.4 378.5,573.4 378.5,577.4 378.5,581.4 378.5,585.4 378.5,589.4 378.5,590.0 379.4,593.4 380.0,596.0 380.0,597.4 379.9,601.4 379.8,605.4 379.7,609.4 379.6,612.0 379.4,613.4 378.8,617.4 378.5,619.5 378.5,620.0 378.5,620.0" fill="#ffa500"/>
<polygon points="378.5,137.4 381.6,137.4 382.0,141.4 382.3,145.4 382.7,149.4 383.1,153.4 383.2,155.0 383.5,157.4 383.9,161.4 384.3,165.4 384.6,168.0 384.7,169.4 384.9,173.4 385.1,177.4 385.2,179.6 385.3,181.4 385.5,185.4 385.6,187.0 385.7,189.4 386.0,193.4 386.2,197.4 386.3,199.5 386.4,201.4 386.7,205.4 386.9,209.4 387.1,213.4 387.2,214.4 387.4,217.4 387.6,221.4 387.8,225.4 387.9,226.8 387.6,229.4 387.2,233.4 386.7,237.4 386.3,241.4 386.3,241.7 385.8,245.4 385.4,249.4 385.0,253.4 384.9,254.0 384.6,257.4 384.4,259.0 384.2,261.4 383.8,265.4 383.4,269.4 383.0,273.4 382.6,277.4 382.4,278.9 382.4,279.0 382.2,281.4 381.9,285.4 381.6,289.4 381.3,293.4 381.2,295.0 381.1,297.4 381.0,301.2 381.0,301.4 380.9,305.4 380.8,309.4 380.7,313.4 380.7,314.8 380.6,317.4 380.5,321.4 380.4,324.7 380.4,325.4 380.3,328.5 380.3,329.4 380.2,332.7 380.2,333.4 380.1,337.4 380.0,340.0 380.0,341.4 379.9,345.4 379.8,348.8 379.8,349.4 379.7,353.4 379.6,355.8 379.5,357.4 379.4,361.4 379.4,362.5 379.4,364.9 379.3,365.4 379.2,369.4 379.1,373.4 379.0,377.4 378.9,381.4 378.9,382.6 378.8,385.4 378.8,388.0 378.7,389.4 378.7,390.0 378.7,393.4 378.7,393.7 378.7,397.4 378.7,398.7 378.7,401.4 378.7,405.4 378.7,409.4 378.7,413.4 378.7,417.0 378.7,417.4 378.7,421.4 378.7,425.4 378.7,426.5 378.7,429.4 378.7,433.4 378.7,437.4 378.7,441.4 378.7,445.4 378.6,449.4 378.6,453.4 378.6,455.0 378.6,457.4 378.6,461.4 378.6,465.4 378.6,468.0 378.6,469.4 378.6,473.4 378.6,477.4 378.6,481.4 378.6,481.6 378.6,485.4 378.6,489.4 378.6,493.4 378.6,497.4 378.6,501.4 378.6,502.0 378.6,505.4 378.6,509.4 378.6,510.0 378.6,513.4 378.6,517.4 378.6,521.4 378.6,525.4 378.6,529.4 378.6,533.4 378.6,537.4 378.6,541.4 378.6,545.4 378.6,549.4 378.6,553.4 378.6,557.4 378.6,561.4 378.5,565.4 378.5,569.4 378.5,573.4 378.5,577.4 378.5,581.4 378.5,585.4 378.5,589.4 378.5,590.0 378.5,593.4 378.5,596.0 378.5,597.4 378.5,601.4 378.5,605.4 378.5,609.4 378.5,612.0 378.5,613.4 378.5,617.4 378.5,619.5 378.5,620.0 378.5,620.0" fill="#00ffff"/>
<line x1="379.6" x2="379.6" y1="476" y2="556" stroke="#ff00ff" stroke-width="1"/>
<path d="M473.0,136.0C474.5,137.3 480.6,144.1 484.1,146.1C487.6,148.1 495.0,149.1 499.0,151.1C503.0,153.1 510.3,158.0 513.9,161.0C517.5,164.0 523.6,169.9 526.3,173.4C529.0,176.9 533.6,183.6 534.3,187.1C535.0,190.6 530.2,196.0 531.3,199.5C532.4,203.0 540.8,209.1 542.5,213.1C544.2,217.1 542.4,223.6 543.7,229.3C545.0,235.0 552.2,250.5 552.4,256.1C552.6,261.7 546.1,267.4 544.9,271.4C543.7,275.4 544.5,283.2 543.7,286.3C542.9,289.4 541.1,293.0 538.7,295.0C536.3,297.0 528.1,298.6 525.8,301.2C523.5,303.8 523.3,311.7 521.4,314.8C519.5,317.9 514.9,322.2 511.4,324.7C507.9,327.2 497.8,330.2 495.3,333.4C492.8,336.6 494.3,345.7 492.8,348.8C491.3,351.9 486.7,354.9 484.1,357.0C481.5,359.1 475.5,361.5 473.0,364.9C470.5,368.3 467.5,378.1 465.5,382.6C463.5,387.1 459.6,394.1 458.1,398.7C456.6,403.3 455.3,412.3 454.4,417.0C453.5,421.7 450.9,428.8 451.1,433.9C451.3,439.0 455.4,448.3 455.6,455.0C455.8,461.7 453.1,478.2 452.9,484.2C452.7,490.2 454.1,496.1 454.2,500.0C454.3,503.9 455.4,509.0 453.7,513.2C452.0,517.4 444.5,526.9 441.1,531.6C437.7,536.3 430.2,544.1 428.4,548.7C426.6,553.3 428.0,562.5 427.4,565.8C426.8,569.1 425.9,571.2 423.9,573.7C421.9,576.2 415.8,580.3 412.1,584.2C408.4,588.1 400.0,598.0 396.3,602.6C392.6,607.2 386.1,616.3 384.5,618.4" fill="none" stroke="#fff" stroke-width="3.5" stroke-linejoin="round" stroke-linecap="round"/>
</g>
<path d="M378.5,136.70000000000002 V620.0 H628.7" fill="none" stroke="#000" stroke-width="1.5"/>
<line x1="378.5" x2="628.7" y1="137.4" y2="137.4" stroke="#000" stroke-width="1.5"/>
<line x1="378.5" x2="384.0" y1="620.0" y2="620.0" stroke="#000" stroke-width="1.3"/>
<text transform="translate(372.50,626.90) scale(1.07,1)" text-anchor="end" font-size="14.0" font-weight="normal" fill="#000">0</text>
<line x1="378.5" x2="384.0" y1="563.2" y2="563.2" stroke="#000" stroke-width="1.3"/>
<text transform="translate(372.50,570.12) scale(1.07,1)" text-anchor="end" font-size="14.0" font-weight="normal" fill="#000">2</text>
<line x1="378.5" x2="384.0" y1="506.4" y2="506.4" stroke="#000" stroke-width="1.3"/>
<text transform="translate(372.50,513.35) scale(1.07,1)" text-anchor="end" font-size="14.0" font-weight="normal" fill="#000">4</text>
<line x1="378.5" x2="384.0" y1="449.7" y2="449.7" stroke="#000" stroke-width="1.3"/>
<text transform="translate(372.50,456.57) scale(1.07,1)" text-anchor="end" font-size="14.0" font-weight="normal" fill="#000">6</text>
<line x1="378.5" x2="384.0" y1="392.9" y2="392.9" stroke="#000" stroke-width="1.3"/>
<text transform="translate(372.50,399.79) scale(1.07,1)" text-anchor="end" font-size="14.0" font-weight="normal" fill="#000">8</text>
<line x1="378.5" x2="384.0" y1="336.1" y2="336.1" stroke="#000" stroke-width="1.3"/>
<text transform="translate(372.50,343.02) scale(1.07,1)" text-anchor="end" font-size="14.0" font-weight="normal" fill="#000">10</text>
<line x1="378.5" x2="384.0" y1="279.3" y2="279.3" stroke="#000" stroke-width="1.3"/>
<text transform="translate(372.50,286.24) scale(1.07,1)" text-anchor="end" font-size="14.0" font-weight="normal" fill="#000">12</text>
<line x1="378.5" x2="384.0" y1="222.6" y2="222.6" stroke="#000" stroke-width="1.3"/>
<text transform="translate(372.50,229.46) scale(1.07,1)" text-anchor="end" font-size="14.0" font-weight="normal" fill="#000">14</text>
<line x1="378.5" x2="384.0" y1="165.8" y2="165.8" stroke="#000" stroke-width="1.3"/>
<text transform="translate(372.50,172.69) scale(1.07,1)" text-anchor="end" font-size="14.0" font-weight="normal" fill="#000">16</text>
<line x1="378.5" x2="378.5" y1="620.0" y2="615.0" stroke="#000" stroke-width="1.3"/>
<text transform="translate(377.90,639.30) scale(1.07,1)" text-anchor="middle" font-size="14.0" font-weight="normal" fill="#000">0</text>
<line x1="428.4" x2="428.4" y1="620.0" y2="615.0" stroke="#000" stroke-width="1.3"/>
<text transform="translate(427.80,639.30) scale(1.07,1)" text-anchor="middle" font-size="14.0" font-weight="normal" fill="#000">0.2</text>
<line x1="478.3" x2="478.3" y1="620.0" y2="615.0" stroke="#000" stroke-width="1.3"/>
<text transform="translate(477.70,639.30) scale(1.07,1)" text-anchor="middle" font-size="14.0" font-weight="normal" fill="#000">0.4</text>
<line x1="528.2" x2="528.2" y1="620.0" y2="615.0" stroke="#000" stroke-width="1.3"/>
<text transform="translate(527.60,639.30) scale(1.07,1)" text-anchor="middle" font-size="14.0" font-weight="normal" fill="#000">0.6</text>
<line x1="578.1" x2="578.1" y1="620.0" y2="615.0" stroke="#000" stroke-width="1.3"/>
<text transform="translate(577.50,639.30) scale(1.07,1)" text-anchor="middle" font-size="14.0" font-weight="normal" fill="#000">0.8</text>
<line x1="628.0" x2="628.0" y1="620.0" y2="615.0" stroke="#000" stroke-width="1.3"/>
<text transform="translate(627.40,639.30) scale(1.07,1)" text-anchor="middle" font-size="14.0" font-weight="normal" fill="#000">1.0</text>
<path d="M378.50,137.4v5 M389.18,137.4v3 M395.43,137.4v3 M399.87,137.4v3 M403.31,137.4v3 M406.12,137.4v3 M408.49,137.4v3 M410.55,137.4v3 M412.37,137.4v3 M413.99,137.4v3 M424.67,137.4v3 M430.92,137.4v3 M435.36,137.4v3 M438.80,137.4v3 M441.61,137.4v3 M443.98,137.4v3 M446.04,137.4v3 M447.86,137.4v3 M449.48,137.4v5 M460.17,137.4v3 M466.41,137.4v3 M470.85,137.4v3 M474.29,137.4v3 M477.10,137.4v3 M479.47,137.4v3 M481.53,137.4v3 M483.35,137.4v3 M484.97,137.4v3 M495.66,137.4v3 M501.91,137.4v3 M506.34,137.4v3 M509.78,137.4v3 M512.59,137.4v3 M514.97,137.4v3 M517.02,137.4v3 M518.84,137.4v3 M520.46,137.4v5 M531.15,137.4v3 M537.40,137.4v3 M541.83,137.4v3 M545.27,137.4v3 M548.08,137.4v3 M550.46,137.4v3 M552.51,137.4v3 M554.33,137.4v3 M555.95,137.4v3 M566.64,137.4v3 M572.89,137.4v3 M577.32,137.4v3 M580.76,137.4v3 M583.57,137.4v3 M585.95,137.4v3 M588.01,137.4v3 M589.82,137.4v3 M591.44,137.4v5 M602.13,137.4v3 M608.38,137.4v3 M612.81,137.4v3 M616.25,137.4v3 M619.06,137.4v3 M621.44,137.4v3 M623.50,137.4v3 M625.31,137.4v3 M626.94,137.4v3" stroke="#000" stroke-width="1.3" fill="none"/>
<text transform="translate(378.50,131.00) scale(1.07,1)" text-anchor="middle" font-size="14.0" font-weight="normal" fill="#000">10<tspan font-size="9.8" dy="-5.6">&#8211;5</tspan><tspan dy="5.6" font-size="14.0">&#8203;</tspan></text>
<text transform="translate(449.48,131.00) scale(1.07,1)" text-anchor="middle" font-size="14.0" font-weight="normal" fill="#000">10<tspan font-size="9.8" dy="-5.6">&#8211;3</tspan><tspan dy="5.6" font-size="14.0">&#8203;</tspan></text>
<text transform="translate(520.46,131.00) scale(1.07,1)" text-anchor="middle" font-size="14.0" font-weight="normal" fill="#000">10<tspan font-size="9.8" dy="-5.6">&#8211;1</tspan><tspan dy="5.6" font-size="14.0">&#8203;</tspan></text>
<text transform="translate(591.44,131.00) scale(1.07,1)" text-anchor="middle" font-size="14.0" font-weight="normal" fill="#000">10<tspan font-size="9.8" dy="-5.6">1</tspan><tspan dy="5.6" font-size="14.0">&#8203;</tspan></text>
<text transform="translate(497.30,86.50) scale(1.064,1)" text-anchor="middle" font-size="14.0" font-weight="normal" fill="#000">Central Amazon</text>
<text transform="translate(498.00,108.50) scale(1.07,1)" text-anchor="middle" font-size="14.0" font-weight="normal" fill="#000">Total NPF rate (cm<tspan font-size="9.8" dy="-5.6">&#8211;3</tspan><tspan dy="5.6" font-size="14.0">&#8203;</tspan> s<tspan font-size="9.8" dy="-5.6">&#8211;1</tspan><tspan dy="5.6" font-size="14.0">&#8203;</tspan>)</text>
<text transform="translate(503.00,658.50) scale(1.056,1)" text-anchor="middle" font-size="14.0" font-weight="normal" fill="#000">Relative fraction</text>
<text transform="translate(348.70,388.00) rotate(-90) scale(1.053,1)" text-anchor="middle" font-size="14.0" font-weight="normal" fill="#000">Height AGL (km)</text>
<clipPath id="c690"><rect x="690.8" y="137.4" width="249.4000000000001" height="482.6"/></clipPath>
<g clip-path="url(#c690)">
<polygon points="690.8,137.4 940.2,137.4 940.2,141.4 940.2,145.4 940.2,147.9 940.2,148.6 940.2,149.4 940.2,149.9 940.2,153.4 940.2,157.3 940.2,157.4 940.2,161.4 940.2,164.7 940.2,165.4 940.2,169.4 940.2,172.0 940.2,173.4 940.2,177.4 940.2,181.4 940.2,185.4 940.2,187.0 940.2,187.1 940.2,188.0 940.2,189.4 940.2,193.4 940.2,197.4 940.2,201.4 940.2,202.0 940.2,205.4 940.2,209.4 940.2,213.4 940.2,214.4 940.2,215.0 940.2,215.1 940.2,217.4 940.2,221.4 940.2,225.4 940.2,226.8 940.2,228.0 940.2,229.0 940.2,229.4 940.2,233.4 940.2,237.4 940.2,241.4 940.2,242.9 940.2,245.4 940.2,249.0 940.2,249.1 940.2,249.4 940.2,253.4 940.2,256.6 940.2,257.4 940.2,261.4 940.2,261.5 940.2,265.4 940.2,269.0 940.2,269.4 940.2,271.4 940.2,273.4 940.2,277.4 940.2,281.4 940.2,284.3 940.2,285.4 940.2,289.4 940.2,290.0 940.2,293.4 940.2,295.0 940.2,297.4 940.2,298.7 940.2,300.0 940.2,301.4 940.2,305.4 940.2,309.4 940.2,313.4 940.2,313.6 940.2,317.4 940.2,321.4 940.2,322.0 940.2,325.4 940.2,327.0 940.2,327.2 940.2,328.5 940.2,329.4 940.2,333.4 940.2,335.9 940.2,337.4 940.2,341.4 940.2,342.6 940.2,345.4 940.2,349.4 940.2,353.4 940.2,357.0 940.2,357.4 940.2,361.4 940.2,364.4 940.2,365.4 940.2,365.7 940.2,369.4 940.2,373.4 940.2,374.4 940.2,377.4 940.2,381.4 940.2,384.3 940.2,385.4 940.2,388.3 940.2,389.3 940.2,389.4 940.2,390.3 940.2,393.4 940.2,397.4 940.2,399.2 940.2,401.4 940.2,405.4 940.2,406.6 940.2,409.4 940.2,413.4 940.2,417.4 940.2,421.4 940.2,421.5 940.2,425.4 940.2,429.4 940.2,433.4 940.2,437.4 940.2,438.9 940.2,441.4 940.2,445.4 940.2,449.4 940.2,453.4 940.2,455.0 940.2,457.4 940.2,460.0 940.2,461.4 940.2,465.4 940.2,469.4 940.2,473.4 940.2,473.7 940.2,477.4 940.2,481.4 940.2,484.0 940.2,484.2 940.2,485.0 940.2,485.4 940.2,489.4 940.2,493.4 940.2,497.4 940.2,498.7 940.2,501.4 940.2,505.4 940.2,506.6 940.2,507.9 940.2,508.0 940.2,509.4 940.2,513.4 940.2,517.1 940.2,517.4 940.2,521.4 940.2,525.0 940.2,525.4 940.2,528.9 940.2,529.4 940.2,533.4 940.2,536.8 940.2,537.4 940.2,541.4 940.2,545.4 940.2,549.4 940.2,550.0 940.2,553.4 940.2,555.3 940.2,557.4 940.2,561.4 940.2,563.2 940.2,565.4 940.2,569.4 940.2,573.4 940.2,577.4 940.2,581.4 940.2,581.6 940.2,582.9 940.2,585.4 940.2,589.4 940.2,593.4 940.2,597.4 940.2,601.4 940.2,603.8 940.2,605.3 940.2,605.4 940.2,606.6 940.2,608.0 940.2,609.4 940.2,610.2 940.2,611.8 940.2,612.3 940.2,613.4 940.2,613.7 940.2,613.8 940.2,614.5 940.2,614.8 940.2,616.1 940.2,616.9 940.2,617.1 940.2,617.4 940.2,618.2 940.2,618.4 940.2,619.5 940.2,620.0 690.8,620.0" fill="#8b4000"/>
<polygon points="690.8,137.4 940.2,137.4 940.2,141.4 940.2,145.4 940.2,147.9 940.2,148.6 940.2,149.4 940.2,149.9 940.2,153.4 940.2,157.3 940.2,157.4 940.2,161.4 940.2,164.7 940.2,165.4 940.2,169.4 940.2,172.0 940.2,173.4 940.2,177.4 940.2,181.4 940.2,185.4 940.2,187.0 940.2,187.1 940.2,188.0 940.2,189.4 940.2,193.4 940.2,197.4 940.2,201.4 940.2,202.0 940.2,205.4 940.2,209.4 940.2,213.4 940.2,214.4 940.2,215.0 940.2,215.1 940.2,217.4 940.2,221.4 940.2,225.4 940.2,226.8 940.2,228.0 940.2,229.0 940.2,229.4 940.2,233.4 940.2,237.4 940.2,241.4 940.2,242.9 940.2,245.4 940.2,249.0 940.2,249.1 940.2,249.4 940.2,253.4 940.2,256.6 940.2,257.4 940.2,261.4 940.2,261.5 940.2,265.4 940.2,269.0 940.2,269.4 940.2,271.4 940.2,273.4 940.2,277.4 940.2,281.4 940.2,284.3 940.2,285.4 940.2,289.4 940.2,290.0 940.2,293.4 940.2,295.0 940.2,297.4 940.2,298.7 940.2,300.0 940.2,301.4 940.2,305.4 940.2,309.4 940.2,313.4 940.2,313.6 940.2,317.4 940.2,321.4 940.2,322.0 940.2,325.4 940.2,327.0 940.2,327.2 940.2,328.5 940.2,329.4 940.2,333.4 940.2,335.9 940.2,337.4 940.2,341.4 940.2,342.6 940.2,345.4 940.2,349.4 940.2,353.4 940.2,357.0 940.2,357.4 940.2,361.4 940.2,364.4 940.2,365.4 940.2,365.7 940.2,369.4 940.2,373.4 940.2,374.4 940.2,377.4 940.2,381.4 940.2,384.3 940.2,385.4 940.2,388.3 940.2,389.3 940.2,389.4 940.2,390.3 940.2,393.4 940.2,397.4 940.2,399.2 940.2,401.4 940.2,405.4 940.2,406.6 940.2,409.4 940.2,413.4 940.2,417.4 940.2,421.4 940.2,421.5 940.2,425.4 940.2,429.4 940.2,433.4 940.2,437.4 940.2,438.9 940.2,441.4 940.2,445.4 940.2,449.4 940.2,453.4 940.2,455.0 940.2,457.4 940.2,460.0 940.2,461.4 940.2,465.4 940.2,469.4 940.2,473.4 940.2,473.7 940.2,477.4 940.2,481.4 940.2,484.0 940.2,484.2 940.2,485.0 940.2,485.4 940.2,489.4 940.2,493.4 940.2,497.4 940.2,498.7 940.2,501.4 940.2,505.4 940.2,506.6 940.2,507.9 940.2,508.0 940.2,509.4 940.2,513.4 940.2,517.1 940.2,517.4 940.2,521.4 940.2,525.0 940.2,525.4 940.2,528.9 940.2,529.4 940.2,533.4 940.2,536.8 940.2,537.4 940.2,541.4 940.2,545.4 940.2,549.4 940.2,550.0 940.2,553.4 940.2,555.3 940.2,557.4 940.2,561.4 940.2,563.2 940.2,565.4 940.2,569.4 940.2,573.4 940.2,577.4 940.2,581.4 940.2,581.6 940.2,582.9 940.2,585.4 940.2,589.4 940.2,593.4 940.2,597.4 940.2,601.4 940.2,603.8 940.2,605.3 940.2,605.4 940.2,606.6 940.2,608.0 940.2,609.4 940.2,610.2 940.2,611.8 940.2,612.3 940.2,613.4 940.2,613.7 937.9,613.8 921.5,614.5 914.5,614.8 881.8,616.1 861.7,616.9 856.8,617.1 849.5,617.4 830.0,618.2 819.2,618.4 760.0,619.5 760.0,620.0 690.8,620.0" fill="#00ff00"/>
<polygon points="690.8,137.4 940.2,137.4 940.2,141.4 940.2,145.4 940.2,147.9 940.2,148.6 940.2,149.4 940.2,149.9 940.2,153.4 940.2,157.3 940.2,157.4 940.2,161.4 940.2,164.7 940.2,165.4 940.2,169.4 940.2,172.0 940.2,173.4 940.2,177.4 940.2,181.4 940.2,185.4 940.2,187.0 940.2,187.1 940.2,188.0 940.2,189.4 940.2,193.4 940.2,197.4 940.2,201.4 940.2,202.0 940.2,205.4 940.2,209.4 940.2,213.4 940.2,214.4 940.2,215.0 940.2,215.1 940.2,217.4 940.2,221.4 940.2,225.4 940.2,226.8 940.2,228.0 940.2,229.0 940.2,229.4 940.2,233.4 940.2,237.4 940.2,241.4 940.2,242.9 940.2,245.4 940.2,249.0 940.2,249.1 940.2,249.4 940.2,253.4 940.2,256.6 940.2,257.4 940.2,261.4 940.2,261.5 940.2,265.4 940.2,269.0 940.2,269.4 940.2,271.4 940.2,273.4 940.2,277.4 940.2,281.4 940.2,284.3 940.2,285.4 940.2,289.4 940.2,290.0 940.2,293.4 940.2,295.0 940.2,297.4 940.2,298.7 940.2,300.0 940.2,301.4 940.2,305.4 940.2,309.4 940.2,313.4 940.2,313.6 940.2,317.4 940.2,321.4 940.2,322.0 940.2,325.4 940.2,327.0 940.2,327.2 940.2,328.5 940.2,329.4 940.2,333.4 940.2,335.9 940.2,337.4 940.2,341.4 940.2,342.6 940.2,345.4 940.2,349.4 940.2,353.4 940.2,357.0 940.2,357.4 940.2,361.4 940.2,364.4 940.2,365.4 940.2,365.7 940.2,369.4 940.2,373.4 940.2,374.4 940.2,377.4 940.2,381.4 940.2,384.3 940.2,385.4 940.2,388.3 940.2,389.3 940.2,389.4 940.2,390.3 940.2,393.4 940.2,397.4 940.2,399.2 940.2,401.4 940.2,405.4 940.2,406.6 940.2,409.4 940.2,413.4 940.2,417.4 940.2,421.4 940.2,421.5 940.2,425.4 940.2,429.4 940.2,433.4 940.2,437.4 940.2,438.9 940.2,441.4 940.2,445.4 940.2,449.4 940.2,453.4 940.2,455.0 940.2,457.4 940.2,460.0 940.2,461.4 940.2,465.4 940.2,469.4 940.2,473.4 940.2,473.7 940.2,477.4 940.2,481.4 940.2,484.0 940.2,484.2 940.2,485.0 940.2,485.4 940.2,489.4 940.2,493.4 940.2,497.4 940.2,498.7 940.2,501.4 940.2,505.4 940.2,506.6 940.2,507.9 940.2,508.0 940.2,509.4 940.2,513.4 940.2,517.1 940.2,517.4 940.2,521.4 940.2,525.0 940.2,525.4 940.2,528.9 940.2,529.4 940.2,533.4 940.2,536.8 940.2,537.4 940.2,541.4 940.2,545.4 940.2,549.4 940.2,550.0 940.2,553.4 940.2,555.3 940.2,557.4 940.2,561.4 940.2,563.2 940.2,565.4 940.2,569.4 940.2,573.4 940.2,577.4 940.2,581.4 940.2,581.6 940.2,582.9 940.2,585.4 940.2,589.4 940.2,593.4 940.2,597.4 938.7,601.4 937.8,603.8 935.5,605.3 935.4,605.4 933.5,606.6 931.4,608.0 920.6,609.4 914.5,610.2 898.4,611.8 893.4,612.3 877.9,613.4 873.6,613.7 872.2,613.8 857.4,614.5 851.1,614.8 819.4,616.1 802.5,616.9 799.2,617.1 794.3,617.4 781.2,618.2 778.0,618.4 760.0,619.5 760.0,620.0 690.8,620.0" fill="#0000ff"/>
<polygon points="690.8,137.4 909.6,137.4 911.0,141.4 912.4,145.4 913.3,147.9 931.9,148.6 932.1,149.4 932.2,149.9 932.8,153.4 933.6,157.3 933.6,157.4 933.2,161.4 932.9,164.7 932.8,165.4 932.4,169.4 932.1,172.0 932.0,173.4 931.6,177.4 931.2,181.4 930.8,185.4 930.6,187.0 930.6,187.1 930.4,188.0 930.2,189.4 929.5,193.4 928.9,197.4 928.2,201.4 928.1,202.0 922.7,205.4 916.3,209.4 909.9,213.4 908.3,214.4 908.3,215.0 908.3,215.1 908.4,217.4 908.6,221.4 908.7,225.4 908.8,226.8 908.8,228.0 909.2,229.0 909.3,229.4 910.9,233.4 912.4,237.4 913.9,241.4 914.5,242.9 911.3,245.4 906.8,249.0 906.6,249.1 906.2,249.4 901.2,253.4 897.1,256.6 897.7,257.4 900.7,261.4 900.8,261.5 903.8,265.4 906.5,269.0 906.8,269.4 908.3,271.4 907.0,273.4 904.3,277.4 901.6,281.4 899.6,284.3 900.0,285.4 901.4,289.4 901.6,290.0 902.7,293.4 903.3,295.0 904.9,297.4 905.8,298.7 905.2,300.0 904.5,301.4 902.5,305.4 900.5,309.4 898.5,313.4 898.4,313.6 898.1,317.4 897.7,321.4 897.7,322.0 897.4,325.4 897.2,327.0 897.2,327.2 897.1,328.5 895.4,329.4 888.1,333.4 883.5,335.9 877.7,337.4 862.1,341.4 857.4,342.6 857.3,345.4 857.1,349.4 856.9,353.4 856.7,357.0 856.0,357.4 848.9,361.4 843.6,364.4 841.8,365.4 841.3,365.7 830.2,369.4 818.2,373.4 815.2,374.4 808.1,377.4 798.6,381.4 791.7,384.3 786.7,385.4 773.4,388.3 768.8,389.3 768.8,389.4 768.4,390.3 767.0,393.4 765.2,397.4 764.4,399.2 762.9,401.4 760.2,405.4 759.4,406.6 753.1,409.4 744.1,413.4 735.1,417.4 726.1,421.4 725.9,421.5 726.5,425.4 727.0,429.4 727.6,433.4 728.2,437.4 728.4,438.9 727.2,441.4 725.4,445.4 723.5,449.4 721.6,453.4 720.9,455.0 722.1,457.4 723.5,460.0 723.4,461.4 723.2,465.4 723.0,469.4 722.8,473.4 722.8,473.7 726.5,477.4 730.4,481.4 733.0,484.0 732.6,484.2 733.6,485.0 734.1,485.4 739.2,489.4 744.3,493.4 749.4,497.4 751.1,498.7 756.5,501.4 764.4,505.4 766.8,506.6 770.7,507.9 771.0,508.0 775.2,509.4 787.3,513.4 798.4,517.1 799.9,517.4 819.9,521.4 837.9,525.0 839.2,525.4 851.0,528.9 852.6,529.4 866.0,533.4 877.4,536.8 878.6,537.4 886.6,541.4 894.5,545.4 902.5,549.4 903.7,550.0 905.6,553.4 906.7,555.3 907.8,557.4 910.1,561.4 911.1,563.2 911.0,565.4 910.8,569.4 910.7,573.4 910.5,577.4 910.4,581.4 910.4,581.6 910.3,582.9 908.7,585.4 906.2,589.4 903.6,593.4 901.1,597.4 897.1,601.4 894.6,603.8 893.1,605.3 893.0,605.4 891.8,606.6 884.4,608.0 876.9,609.4 872.7,610.2 864.2,611.8 859.3,612.3 848.6,613.4 845.7,613.7 844.7,613.8 837.9,614.5 833.3,614.8 813.6,616.1 801.4,616.9 798.4,617.1 787.5,617.4 758.4,618.2 751.1,618.4 692.0,619.5 692.0,620.0 690.8,620.0" fill="#ffa500"/>
<polygon points="690.8,137.4 693.0,137.4 693.8,141.4 694.5,145.4 695.0,147.9 695.1,148.6 695.3,149.4 695.4,149.9 696.2,153.4 697.0,157.3 697.0,157.4 697.9,161.4 698.6,164.7 698.7,165.4 699.4,169.4 699.8,172.0 700.0,173.4 700.7,177.4 701.4,181.4 702.0,185.4 702.3,187.0 702.3,187.1 702.5,188.0 702.7,189.4 703.4,193.4 704.0,197.4 704.7,201.4 704.8,202.0 707.1,205.4 709.7,209.4 712.4,213.4 713.0,214.4 713.4,215.0 713.5,215.1 713.0,217.4 712.2,221.4 711.3,225.4 711.0,226.8 710.9,228.0 710.8,229.0 710.7,229.4 710.3,233.4 709.8,237.4 709.4,241.4 709.2,242.9 708.9,245.4 708.5,249.0 708.5,249.1 708.4,249.4 706.8,253.4 705.5,256.6 705.2,257.4 703.6,261.4 703.6,261.5 702.1,265.4 700.8,269.0 700.6,269.4 699.9,271.4 699.7,273.4 699.3,277.4 698.8,281.4 698.5,284.3 698.4,285.4 698.0,289.4 697.9,290.0 697.6,293.4 697.4,295.0 697.3,297.4 697.3,298.7 697.2,300.0 697.1,301.4 697.0,305.4 696.8,309.4 696.7,313.4 696.6,313.6 696.5,317.4 696.3,321.4 696.3,322.0 696.2,325.4 696.1,327.0 696.1,327.2 696.2,328.5 696.2,329.4 696.5,333.4 696.7,335.9 696.8,337.4 697.1,341.4 697.1,342.6 697.3,345.4 697.6,349.4 697.9,353.4 698.1,357.0 698.1,357.4 698.4,361.4 698.6,364.4 698.8,365.4 698.9,365.7 699.8,369.4 700.8,373.4 701.1,374.4 701.8,377.4 702.8,381.4 703.6,384.3 703.8,385.4 704.6,388.3 704.8,389.3 704.9,389.4 705.4,390.3 707.3,393.4 709.8,397.4 710.9,399.2 712.2,401.4 714.7,405.4 714.8,406.6 715.0,409.4 715.3,413.4 715.7,417.4 716.0,421.4 716.0,421.5 716.3,425.4 716.5,429.4 716.8,433.4 717.1,437.4 717.2,438.9 717.4,441.4 717.7,445.4 718.0,449.4 718.4,453.4 718.5,455.0 718.8,457.4 719.1,460.0 719.3,461.4 719.8,465.4 720.3,469.4 720.8,473.4 720.8,473.7 725.0,477.4 729.5,481.4 732.4,484.0 732.6,484.2 733.6,485.0 734.1,485.4 739.2,489.4 744.3,493.4 749.4,497.4 751.1,498.7 756.5,501.4 764.4,505.4 766.8,506.6 770.7,507.9 771.0,508.0 775.2,509.4 787.3,513.4 798.4,517.1 799.9,517.4 819.9,521.4 837.9,525.0 839.2,525.4 851.0,528.9 852.6,529.4 866.0,533.4 877.4,536.8 878.6,537.4 886.6,541.4 894.5,545.4 902.5,549.4 903.7,550.0 905.6,553.4 906.7,555.3 907.8,557.4 910.1,561.4 911.1,563.2 911.0,565.4 910.8,569.4 910.7,573.4 910.5,577.4 910.4,581.4 910.4,581.6 910.3,582.9 908.7,585.4 906.2,589.4 903.6,593.4 901.1,597.4 897.1,601.4 894.6,603.8 893.1,605.3 893.0,605.4 891.8,606.6 884.4,608.0 876.9,609.4 872.7,610.2 864.2,611.8 859.3,612.3 848.6,613.4 845.7,613.7 844.7,613.8 837.9,614.5 833.3,614.8 813.6,616.1 801.4,616.9 798.4,617.1 787.5,617.4 758.4,618.2 751.1,618.4 692.0,619.5 692.0,620.0 690.8,620.0" fill="#00ffff"/>
<polygon points="690.8,137.4 691.2,137.4 691.4,141.4 691.5,145.4 691.6,147.9 691.6,148.6 691.6,149.4 691.6,149.9 691.8,153.4 691.9,157.3 691.9,157.4 692.0,161.4 692.1,164.7 692.2,165.4 692.3,169.4 692.4,172.0 692.6,173.4 693.3,177.4 694.0,181.4 694.6,185.4 694.9,187.0 694.9,187.1 695.3,188.0 695.9,189.4 697.5,193.4 699.2,197.4 700.9,201.4 701.1,202.0 703.0,205.4 705.3,209.4 707.6,213.4 708.2,214.4 708.5,215.0 708.5,215.1 708.2,217.4 707.6,221.4 707.0,225.4 706.8,226.8 706.7,228.0 706.6,229.0 706.6,229.4 706.2,233.4 705.8,237.4 705.5,241.4 705.3,242.9 705.1,245.4 704.8,249.0 704.8,249.1 704.6,249.4 703.1,253.4 701.8,256.6 701.5,257.4 699.9,261.4 699.9,261.5 698.4,265.4 697.0,269.0 696.9,269.4 696.1,271.4 695.9,273.4 695.4,277.4 694.9,281.4 694.5,284.3 694.4,285.4 693.9,289.4 693.8,290.0 693.5,293.4 693.3,295.0 693.1,297.4 692.9,298.7 692.8,300.0 692.8,301.4 693.0,305.4 693.1,309.4 693.2,313.4 693.2,313.6 693.3,317.4 693.4,321.4 693.5,322.0 693.6,325.4 693.6,327.0 693.6,327.2 693.8,328.5 693.8,329.4 694.3,333.4 694.5,335.9 694.7,337.4 695.1,341.4 695.2,342.6 695.5,345.4 695.9,349.4 696.3,353.4 696.6,357.0 696.7,357.4 697.1,361.4 697.4,364.4 697.7,365.4 697.8,365.7 698.9,369.4 700.1,373.4 700.4,374.4 701.3,377.4 702.5,381.4 703.3,384.3 703.6,385.4 704.5,388.3 704.8,389.3 704.9,389.4 705.4,390.3 707.3,393.4 709.8,397.4 710.9,399.2 712.2,401.4 714.7,405.4 714.8,406.6 715.0,409.4 715.3,413.4 715.7,417.4 716.0,421.4 716.0,421.5 716.3,425.4 716.5,429.4 716.8,433.4 717.1,437.4 717.2,438.9 717.4,441.4 717.7,445.4 718.0,449.4 718.4,453.4 718.5,455.0 718.8,457.4 719.1,460.0 719.3,461.4 719.8,465.4 720.3,469.4 720.8,473.4 720.8,473.7 725.0,477.4 729.5,481.4 732.4,484.0 732.6,484.2 733.6,485.0 734.1,485.4 739.2,489.4 744.3,493.4 749.4,497.4 751.1,498.7 756.5,501.4 764.4,505.4 766.8,506.6 770.7,507.9 771.0,508.0 775.2,509.4 787.3,513.4 798.4,517.1 799.9,517.4 819.9,521.4 837.9,525.0 839.2,525.4 851.0,528.9 852.6,529.4 866.0,533.4 877.4,536.8 878.6,537.4 886.6,541.4 894.5,545.4 902.5,549.4 903.7,550.0 905.6,553.4 906.7,555.3 907.8,557.4 910.1,561.4 911.1,563.2 911.0,565.4 910.8,569.4 910.7,573.4 910.5,577.4 910.4,581.4 910.4,581.6 910.3,582.9 908.7,585.4 906.2,589.4 903.6,593.4 901.1,597.4 897.1,601.4 894.6,603.8 893.1,605.3 893.0,605.4 891.8,606.6 884.4,608.0 876.9,609.4 872.7,610.2 864.2,611.8 859.3,612.3 848.6,613.4 845.7,613.7 844.7,613.8 837.9,614.5 833.3,614.8 813.6,616.1 801.4,616.9 798.4,617.1 787.5,617.4 758.4,618.2 751.1,618.4 692.0,619.5 692.0,620.0 690.8,620.0" fill="#ff00ff"/>
<polygon points="690.8,137.4 691.2,137.4 691.4,141.4 691.5,145.4 691.6,147.9 691.6,148.6 691.6,149.4 691.6,149.9 691.8,153.4 691.9,157.3 691.9,157.4 692.0,161.4 692.1,164.7 692.2,165.4 692.3,169.4 692.4,172.0 692.6,173.4 693.3,177.4 694.0,181.4 694.6,185.4 694.9,187.0 694.9,187.1 695.3,188.0 695.9,189.4 697.5,193.4 699.2,197.4 700.9,201.4 701.1,202.0 703.0,205.4 705.3,209.4 707.6,213.4 708.2,214.4 708.5,215.0 708.5,215.1 708.2,217.4 707.6,221.4 707.0,225.4 706.8,226.8 706.7,228.0 706.6,229.0 706.6,229.4 706.2,233.4 705.8,237.4 705.5,241.4 705.3,242.9 705.1,245.4 704.8,249.0 704.8,249.1 704.6,249.4 703.1,253.4 701.8,256.6 701.5,257.4 699.9,261.4 699.9,261.5 698.4,265.4 697.0,269.0 696.9,269.4 696.1,271.4 695.9,273.4 695.4,277.4 694.9,281.4 694.5,284.3 694.4,285.4 693.9,289.4 693.8,290.0 693.5,293.4 693.3,295.0 693.1,297.4 692.9,298.7 692.8,300.0 692.8,301.4 693.0,305.4 693.1,309.4 693.2,313.4 693.2,313.6 693.3,317.4 693.4,321.4 693.5,322.0 693.6,325.4 693.6,327.0 693.6,327.2 693.8,328.5 693.8,329.4 694.3,333.4 694.5,335.9 694.7,337.4 695.1,341.4 695.2,342.6 695.5,345.4 695.9,349.4 696.3,353.4 696.6,357.0 696.7,357.4 697.1,361.4 697.4,364.4 697.7,365.4 697.8,365.7 698.9,369.4 700.1,373.4 700.4,374.4 701.3,377.4 702.5,381.4 703.3,384.3 703.6,385.4 704.5,388.3 704.8,389.3 704.8,389.4 704.9,390.3 705.4,393.4 706.0,397.4 706.2,399.2 706.5,401.4 707.1,405.4 707.3,406.6 706.4,409.4 705.0,413.4 703.7,417.4 702.3,421.4 702.3,421.5 701.5,425.4 700.6,429.4 699.8,433.4 698.9,437.4 698.6,438.9 698.2,441.4 697.7,445.4 697.1,449.4 696.5,453.4 696.3,455.0 696.4,457.4 696.4,460.0 696.5,461.4 696.6,465.4 696.7,469.4 696.8,473.4 696.8,473.7 696.9,477.4 697.0,481.4 697.1,484.0 697.1,484.2 697.2,485.0 697.2,485.4 697.7,489.4 698.1,493.4 698.5,497.4 698.7,498.7 699.0,501.4 699.4,505.4 699.6,506.6 699.7,507.9 699.7,508.0 700.2,509.4 701.4,513.4 702.6,517.1 702.7,517.4 703.9,521.4 705.1,525.0 705.2,525.4 706.3,528.9 706.4,529.4 707.0,533.4 707.5,536.8 707.6,537.4 708.2,541.4 708.8,545.4 709.4,549.4 709.5,550.0 710.0,553.4 710.3,555.3 710.6,557.4 711.2,561.4 711.5,563.2 711.8,565.4 712.4,569.4 713.0,573.4 713.6,577.4 714.2,581.4 714.2,581.6 714.5,582.9 715.0,585.4 715.7,589.4 716.5,593.4 717.3,597.4 718.1,601.4 718.6,603.8 718.9,605.3 718.9,605.4 718.5,606.6 718.0,608.0 717.6,609.4 717.3,610.2 716.8,611.8 715.8,612.3 713.6,613.4 713.0,613.7 712.8,613.8 711.5,614.5 710.9,614.8 708.3,616.1 706.7,616.9 706.3,617.1 703.0,617.4 694.0,618.2 691.8,618.4 691.1,619.5 690.8,620.0 690.8,620.0" fill="#a6a6a6"/>
<polygon points="690.8,137.4 690.8,137.4 690.9,141.4 690.9,145.4 690.9,147.9 691.0,148.6 691.0,149.4 691.0,149.9 691.0,153.4 691.1,157.3 691.1,157.4 691.1,161.4 691.2,164.7 691.2,165.4 691.2,169.4 691.3,172.0 691.3,173.4 691.4,177.4 691.4,181.4 691.5,185.4 691.5,187.0 691.5,187.1 691.5,188.0 691.6,189.4 692.0,193.4 692.3,197.4 692.6,201.4 692.7,202.0 693.0,205.4 693.3,209.4 693.7,213.4 693.8,214.4 693.8,215.0 693.8,215.1 694.0,217.4 694.4,221.4 694.7,225.4 694.8,226.8 694.9,228.0 695.0,229.0 695.0,229.4 694.9,233.4 694.7,237.4 694.6,241.4 694.6,242.9 694.5,245.4 694.4,249.0 694.4,249.1 694.4,249.4 694.3,253.4 694.2,256.6 694.1,257.4 694.0,261.4 694.0,261.5 693.9,265.4 693.8,269.0 693.8,269.4 693.7,271.4 693.7,273.4 693.5,277.4 693.4,281.4 693.3,284.3 693.3,285.4 693.1,289.4 693.1,290.0 693.0,293.4 693.0,295.0 692.9,297.4 692.8,298.7 692.8,300.0 692.8,301.4 692.8,305.4 692.8,309.4 692.8,313.4 692.8,313.6 692.8,317.4 692.8,321.4 692.8,322.0 692.8,325.4 692.8,327.0 692.8,327.2 692.9,328.5 693.0,329.4 693.4,333.4 693.6,335.9 693.7,337.4 694.1,341.4 694.2,342.6 694.4,345.4 694.8,349.4 695.1,353.4 695.4,357.0 695.5,357.4 695.8,361.4 696.1,364.4 696.3,365.4 696.4,365.7 697.1,369.4 697.9,373.4 698.1,374.4 698.7,377.4 699.5,381.4 700.1,384.3 700.3,385.4 700.9,388.3 701.1,389.3 701.1,389.4 701.1,390.3 701.1,393.4 701.1,397.4 701.1,399.2 701.1,401.4 701.1,405.4 701.1,406.6 700.3,409.4 699.2,413.4 698.1,417.4 696.9,421.4 696.9,421.5 696.2,425.4 695.4,429.4 694.6,433.4 693.9,437.4 693.6,438.9 693.4,441.4 693.1,445.4 692.8,449.4 692.5,453.4 692.4,455.0 692.4,457.4 692.4,460.0 692.4,461.4 692.3,465.4 692.3,469.4 692.3,473.4 692.3,473.7 692.2,477.4 692.2,481.4 692.2,484.0 692.2,484.2 692.1,485.0 692.1,485.4 691.9,489.4 691.7,493.4 691.4,497.4 691.3,498.7 691.2,501.4 691.0,505.4 690.9,506.6 690.8,507.9 690.8,508.0 690.8,509.4 690.8,513.4 690.8,517.1 690.8,517.4 690.8,521.4 690.8,525.0 690.8,525.4 690.8,528.9 690.8,529.4 690.8,533.4 690.8,536.8 690.8,537.4 690.8,541.4 690.8,545.4 690.8,549.4 690.8,550.0 690.8,553.4 690.8,555.3 690.8,557.4 690.8,561.4 690.8,563.2 690.8,565.4 690.8,569.4 690.8,573.4 690.8,577.4 690.8,581.4 690.8,581.6 690.8,582.9 690.8,585.4 690.8,589.4 690.8,593.4 690.8,597.4 690.8,601.4 690.8,603.8 690.8,605.3 690.8,605.4 690.8,606.6 690.8,608.0 690.8,609.4 690.8,610.2 690.8,611.8 690.8,612.3 690.8,613.4 690.8,613.7 690.8,613.8 690.8,614.5 690.8,614.8 690.8,616.1 690.8,616.9 690.8,617.1 690.8,617.4 690.8,618.2 690.8,618.4 690.8,619.5 690.8,620.0 690.8,620.0" fill="#ff0000"/>
<polygon points="690.8,137.4 690.8,137.4 690.8,141.4 690.8,145.4 690.8,147.9 690.8,148.6 690.8,149.4 690.9,149.9 690.9,153.4 690.9,157.3 690.9,157.4 690.9,161.4 690.9,164.7 690.9,165.4 690.9,169.4 690.9,172.0 690.9,173.4 691.0,177.4 691.0,181.4 691.0,185.4 691.0,187.0 691.0,187.1 691.0,188.0 691.1,189.4 691.4,193.4 691.7,197.4 692.0,201.4 692.0,202.0 692.3,205.4 692.6,209.4 692.9,213.4 692.9,214.4 693.0,215.0 693.0,215.1 693.2,217.4 693.4,221.4 693.7,225.4 693.8,226.8 693.9,228.0 694.0,229.0 694.0,229.4 693.9,233.4 693.7,237.4 693.6,241.4 693.6,242.9 693.5,245.4 693.4,249.0 693.4,249.1 693.4,249.4 693.3,253.4 693.2,256.6 693.1,257.4 693.0,261.4 693.0,261.5 692.9,265.4 692.8,269.0 692.8,269.4 692.7,271.4 692.7,273.4 692.5,277.4 692.4,281.4 692.3,284.3 692.3,285.4 692.1,289.4 692.1,290.0 692.0,293.4 692.0,295.0 691.9,297.4 691.8,298.7 691.8,300.0 691.7,301.4 691.6,305.4 691.4,309.4 691.2,313.4 691.2,313.6 691.0,317.4 690.8,321.4 690.8,322.0 690.8,325.4 690.8,327.0 690.8,327.2 690.8,328.5 690.8,329.4 690.8,333.4 690.8,335.9 690.8,337.4 690.8,341.4 690.8,342.6 690.8,345.4 690.8,349.4 690.8,353.4 690.8,357.0 690.8,357.4 690.8,361.4 690.8,364.4 690.8,365.4 690.8,365.7 690.8,369.4 690.8,373.4 690.8,374.4 690.8,377.4 690.8,381.4 690.8,384.3 690.8,385.4 690.8,388.3 690.8,389.3 690.8,389.4 690.8,390.3 690.8,393.4 690.8,397.4 690.8,399.2 690.8,401.4 690.8,405.4 690.8,406.6 690.8,409.4 690.8,413.4 690.8,417.4 690.8,421.4 690.8,421.5 690.8,425.4 690.8,429.4 690.8,433.4 690.8,437.4 690.8,438.9 690.8,441.4 690.8,445.4 690.8,449.4 690.8,453.4 690.8,455.0 690.8,457.4 690.8,460.0 690.8,461.4 690.8,465.4 690.8,469.4 690.8,473.4 690.8,473.7 690.8,477.4 690.8,481.4 690.8,484.0 690.8,484.2 690.8,485.0 690.8,485.4 690.8,489.4 690.8,493.4 690.8,497.4 690.8,498.7 690.8,501.4 690.8,505.4 690.8,506.6 690.8,507.9 690.8,508.0 690.8,509.4 690.8,513.4 690.8,517.1 690.8,517.4 690.8,521.4 690.8,525.0 690.8,525.4 690.8,528.9 690.8,529.4 690.8,533.4 690.8,536.8 690.8,537.4 690.8,541.4 690.8,545.4 690.8,549.4 690.8,550.0 690.8,553.4 690.8,555.3 690.8,557.4 690.8,561.4 690.8,563.2 690.8,565.4 690.8,569.4 690.8,573.4 690.8,577.4 690.8,581.4 690.8,581.6 690.8,582.9 690.8,585.4 690.8,589.4 690.8,593.4 690.8,597.4 690.8,601.4 690.8,603.8 690.8,605.3 690.8,605.4 690.8,606.6 690.8,608.0 690.8,609.4 690.8,610.2 690.8,611.8 690.8,612.3 690.8,613.4 690.8,613.7 690.8,613.8 690.8,614.5 690.8,614.8 690.8,616.1 690.8,616.9 690.8,617.1 690.8,617.4 690.8,618.2 690.8,618.4 690.8,619.5 690.8,620.0 690.8,620.0" fill="#000"/>

<path d="M692.4,138.7C693.6,139.2 698.8,141.2 701.1,142.4C703.4,143.6 705.0,146.6 709.8,147.4C714.6,148.2 730.2,148.2 737.1,148.6C744.0,149.0 756.6,149.5 761.9,150.3C767.2,151.1 773.2,153.3 776.8,154.8C780.4,156.3 786.2,160.5 789.2,161.8C792.2,163.1 796.1,163.0 799.1,164.2C802.1,165.4 808.4,168.5 811.5,170.9C814.6,173.3 820.2,179.1 822.7,182.1C825.2,185.1 828.7,190.5 830.1,193.3C831.5,196.1 833.0,200.3 833.3,203.2C833.6,206.1 831.5,212.0 832.6,215.1C833.7,218.2 839.0,223.1 841.3,226.8C843.6,230.5 848.7,238.9 850.0,242.9C851.3,246.9 850.3,252.9 851.2,256.6C852.1,260.3 856.7,267.2 856.7,270.9C856.7,274.6 851.9,280.6 851.2,284.3C850.5,288.0 852.9,294.8 851.2,298.7C849.5,302.6 841.8,309.6 838.8,313.6C835.8,317.6 831.9,324.6 828.9,328.5C825.9,332.4 819.8,338.8 816.0,342.6C812.2,346.4 803.9,352.8 800.3,357.0C796.7,361.2 792.0,370.1 789.2,374.4C786.4,378.7 781.6,385.0 779.3,389.3C777.0,393.6 773.6,402.3 772.3,406.6C771.0,410.9 770.8,417.2 769.3,421.5C767.8,425.8 762.7,434.4 761.4,438.9C760.1,443.4 759.7,450.4 759.4,455.0C759.1,459.6 759.3,469.8 758.9,473.7C758.5,477.6 756.9,479.8 756.3,484.2C755.7,488.6 754.5,501.2 754.5,506.6C754.5,512.0 755.4,519.6 756.3,525.0C757.2,530.4 760.6,543.0 761.6,547.4C762.6,551.8 764.1,553.7 763.7,557.9C763.3,562.1 760.6,574.7 758.9,578.9C757.2,583.1 753.2,586.7 751.1,589.5C749.0,592.3 744.1,597.5 743.2,600.0C742.3,602.5 743.1,605.8 744.5,607.9C745.9,610.0 750.4,614.4 753.7,615.8C757.0,617.2 763.2,618.1 769.5,618.4C775.8,618.7 796.9,618.4 801.1,618.4" fill="none" stroke="#fff" stroke-width="3.5" stroke-linejoin="round" stroke-linecap="round"/>
</g>
<path d="M690.8,136.70000000000002 V620.0 H940.9000000000001" fill="none" stroke="#000" stroke-width="1.5"/>
<line x1="690.8" x2="940.9000000000001" y1="137.4" y2="137.4" stroke="#000" stroke-width="1.5"/>
<line x1="690.8" x2="696.3" y1="620.0" y2="620.0" stroke="#000" stroke-width="1.3"/>
<text transform="translate(684.80,626.90) scale(1.07,1)" text-anchor="end" font-size="14.0" font-weight="normal" fill="#000">0</text>
<line x1="690.8" x2="696.3" y1="563.2" y2="563.2" stroke="#000" stroke-width="1.3"/>
<text transform="translate(684.80,570.12) scale(1.07,1)" text-anchor="end" font-size="14.0" font-weight="normal" fill="#000">2</text>
<line x1="690.8" x2="696.3" y1="506.4" y2="506.4" stroke="#000" stroke-width="1.3"/>
<text transform="translate(684.80,513.35) scale(1.07,1)" text-anchor="end" font-size="14.0" font-weight="normal" fill="#000">4</text>
<line x1="690.8" x2="696.3" y1="449.7" y2="449.7" stroke="#000" stroke-width="1.3"/>
<text transform="translate(684.80,456.57) scale(1.07,1)" text-anchor="end" font-size="14.0" font-weight="normal" fill="#000">6</text>
<line x1="690.8" x2="696.3" y1="392.9" y2="392.9" stroke="#000" stroke-width="1.3"/>
<text transform="translate(684.80,399.79) scale(1.07,1)" text-anchor="end" font-size="14.0" font-weight="normal" fill="#000">8</text>
<line x1="690.8" x2="696.3" y1="336.1" y2="336.1" stroke="#000" stroke-width="1.3"/>
<text transform="translate(684.80,343.02) scale(1.07,1)" text-anchor="end" font-size="14.0" font-weight="normal" fill="#000">10</text>
<line x1="690.8" x2="696.3" y1="279.3" y2="279.3" stroke="#000" stroke-width="1.3"/>
<text transform="translate(684.80,286.24) scale(1.07,1)" text-anchor="end" font-size="14.0" font-weight="normal" fill="#000">12</text>
<line x1="690.8" x2="696.3" y1="222.6" y2="222.6" stroke="#000" stroke-width="1.3"/>
<text transform="translate(684.80,229.46) scale(1.07,1)" text-anchor="end" font-size="14.0" font-weight="normal" fill="#000">14</text>
<line x1="690.8" x2="696.3" y1="165.8" y2="165.8" stroke="#000" stroke-width="1.3"/>
<text transform="translate(684.80,172.69) scale(1.07,1)" text-anchor="end" font-size="14.0" font-weight="normal" fill="#000">16</text>
<line x1="690.8" x2="690.8" y1="620.0" y2="615.0" stroke="#000" stroke-width="1.3"/>
<text transform="translate(690.20,639.30) scale(1.07,1)" text-anchor="middle" font-size="14.0" font-weight="normal" fill="#000">0</text>
<line x1="740.7" x2="740.7" y1="620.0" y2="615.0" stroke="#000" stroke-width="1.3"/>
<text transform="translate(740.08,639.30) scale(1.07,1)" text-anchor="middle" font-size="14.0" font-weight="normal" fill="#000">0.2</text>
<line x1="790.6" x2="790.6" y1="620.0" y2="615.0" stroke="#000" stroke-width="1.3"/>
<text transform="translate(789.96,639.30) scale(1.07,1)" text-anchor="middle" font-size="14.0" font-weight="normal" fill="#000">0.4</text>
<line x1="840.4" x2="840.4" y1="620.0" y2="615.0" stroke="#000" stroke-width="1.3"/>
<text transform="translate(839.84,639.30) scale(1.07,1)" text-anchor="middle" font-size="14.0" font-weight="normal" fill="#000">0.6</text>
<line x1="890.3" x2="890.3" y1="620.0" y2="615.0" stroke="#000" stroke-width="1.3"/>
<text transform="translate(889.72,639.30) scale(1.07,1)" text-anchor="middle" font-size="14.0" font-weight="normal" fill="#000">0.8</text>
<line x1="940.2" x2="940.2" y1="620.0" y2="615.0" stroke="#000" stroke-width="1.3"/>
<text transform="translate(939.60,639.30) scale(1.07,1)" text-anchor="middle" font-size="14.0" font-weight="normal" fill="#000">1.0</text>
<path d="M690.80,137.4v5 M701.48,137.4v3 M707.73,137.4v3 M712.16,137.4v3 M715.60,137.4v3 M718.41,137.4v3 M720.78,137.4v3 M722.84,137.4v3 M724.65,137.4v3 M726.28,137.4v3 M736.96,137.4v3 M743.20,137.4v3 M747.64,137.4v3 M751.07,137.4v3 M753.88,137.4v3 M756.26,137.4v3 M758.32,137.4v3 M760.13,137.4v3 M761.75,137.4v5 M772.43,137.4v3 M778.68,137.4v3 M783.11,137.4v3 M786.55,137.4v3 M789.36,137.4v3 M791.73,137.4v3 M793.79,137.4v3 M795.61,137.4v3 M797.23,137.4v3 M807.91,137.4v3 M814.16,137.4v3 M818.59,137.4v3 M822.03,137.4v3 M824.84,137.4v3 M827.21,137.4v3 M829.27,137.4v3 M831.08,137.4v3 M832.71,137.4v5 M843.39,137.4v3 M849.63,137.4v3 M854.07,137.4v3 M857.50,137.4v3 M860.31,137.4v3 M862.69,137.4v3 M864.74,137.4v3 M866.56,137.4v3 M868.18,137.4v3 M878.86,137.4v3 M885.11,137.4v3 M889.54,137.4v3 M892.98,137.4v3 M895.79,137.4v3 M898.16,137.4v3 M900.22,137.4v3 M902.04,137.4v3 M903.66,137.4v5 M914.34,137.4v3 M920.59,137.4v3 M925.02,137.4v3 M928.46,137.4v3 M931.27,137.4v3 M933.64,137.4v3 M935.70,137.4v3 M937.51,137.4v3 M939.14,137.4v3" stroke="#000" stroke-width="1.3" fill="none"/>
<text transform="translate(690.80,131.00) scale(1.07,1)" text-anchor="middle" font-size="14.0" font-weight="normal" fill="#000">10<tspan font-size="9.8" dy="-5.6">&#8211;5</tspan><tspan dy="5.6" font-size="14.0">&#8203;</tspan></text>
<text transform="translate(761.75,131.00) scale(1.07,1)" text-anchor="middle" font-size="14.0" font-weight="normal" fill="#000">10<tspan font-size="9.8" dy="-5.6">&#8211;3</tspan><tspan dy="5.6" font-size="14.0">&#8203;</tspan></text>
<text transform="translate(832.71,131.00) scale(1.07,1)" text-anchor="middle" font-size="14.0" font-weight="normal" fill="#000">10<tspan font-size="9.8" dy="-5.6">&#8211;1</tspan><tspan dy="5.6" font-size="14.0">&#8203;</tspan></text>
<text transform="translate(903.66,131.00) scale(1.07,1)" text-anchor="middle" font-size="14.0" font-weight="normal" fill="#000">10<tspan font-size="9.8" dy="-5.6">1</tspan><tspan dy="5.6" font-size="14.0">&#8203;</tspan></text>
<text transform="translate(809.20,86.50) scale(1.064,1)" text-anchor="middle" font-size="14.0" font-weight="normal" fill="#000">Central Africa</text>
<text transform="translate(807.00,108.50) scale(1.07,1)" text-anchor="middle" font-size="14.0" font-weight="normal" fill="#000">Total NPF rate (cm<tspan font-size="9.8" dy="-5.6">&#8211;3</tspan><tspan dy="5.6" font-size="14.0">&#8203;</tspan> s<tspan font-size="9.8" dy="-5.6">&#8211;1</tspan><tspan dy="5.6" font-size="14.0">&#8203;</tspan>)</text>
<text transform="translate(815.00,658.50) scale(1.056,1)" text-anchor="middle" font-size="14.0" font-weight="normal" fill="#000">Relative fraction</text>
<text transform="translate(661.00,388.00) rotate(-90) scale(1.053,1)" text-anchor="middle" font-size="14.0" font-weight="normal" fill="#000">Height AGL (km)</text>
<clipPath id="c1009"><rect x="1009.3" y="137.4" width="250.29999999999995" height="482.6"/></clipPath>
<g clip-path="url(#c1009)">
<polygon points="1009.3,137.4 1259.6,137.4 1259.6,141.4 1259.6,145.4 1259.6,146.1 1259.6,147.4 1259.6,149.4 1259.6,153.4 1259.6,154.8 1259.6,157.3 1259.6,157.4 1259.6,161.4 1259.6,164.7 1259.6,165.4 1259.6,167.0 1259.6,169.4 1259.6,169.7 1259.6,173.4 1259.6,177.4 1259.6,179.6 1259.6,181.4 1259.6,185.1 1259.6,185.4 1259.6,187.1 1259.6,189.4 1259.6,193.4 1259.6,197.4 1259.6,198.2 1259.6,199.5 1259.6,200.0 1259.6,201.4 1259.6,205.4 1259.6,209.4 1259.6,211.9 1259.6,213.4 1259.6,217.4 1259.6,221.4 1259.6,225.4 1259.6,226.3 1259.6,226.8 1259.6,229.4 1259.6,230.0 1259.6,233.4 1259.6,237.4 1259.6,239.9 1259.6,241.4 1259.6,245.4 1259.6,249.4 1259.6,250.0 1259.6,253.4 1259.6,253.6 1259.6,257.0 1259.6,257.4 1259.6,261.4 1259.6,263.0 1259.6,265.4 1259.6,269.0 1259.6,269.4 1259.6,269.7 1259.6,272.0 1259.6,273.4 1259.6,277.4 1259.6,279.0 1259.6,281.4 1259.6,283.8 1259.6,284.3 1259.6,285.4 1259.6,289.4 1259.6,290.0 1259.6,293.4 1259.6,295.0 1259.6,297.4 1259.6,298.7 1259.6,300.0 1259.6,300.4 1259.6,301.4 1259.6,305.4 1259.6,309.0 1259.6,309.4 1259.6,309.9 1259.6,313.4 1259.6,314.8 1259.6,317.4 1259.6,320.0 1259.6,321.4 1259.6,322.3 1259.6,325.4 1259.6,329.4 1259.6,330.9 1259.6,332.2 1259.6,333.4 1259.6,337.4 1259.6,341.4 1259.6,345.4 1259.6,347.1 1259.6,348.3 1259.6,349.4 1259.6,353.4 1259.6,357.4 1259.6,361.4 1259.6,364.4 1259.6,365.4 1259.6,369.4 1259.6,373.4 1259.6,377.4 1259.6,380.6 1259.6,381.4 1259.6,381.8 1259.6,385.4 1259.6,389.4 1259.6,393.4 1259.6,394.2 1259.6,397.4 1259.6,399.2 1259.6,401.4 1259.6,405.4 1259.6,409.4 1259.6,413.0 1259.6,413.4 1259.6,415.3 1259.6,416.0 1259.6,417.4 1259.6,419.0 1259.6,420.0 1259.6,421.4 1259.6,425.4 1259.6,429.4 1259.6,430.0 1259.6,433.4 1259.6,433.9 1259.6,437.4 1259.6,438.9 1259.6,441.4 1259.6,445.4 1259.6,449.4 1259.6,450.0 1259.6,451.3 1259.6,453.0 1259.6,453.4 1259.6,455.0 1259.6,457.4 1259.6,457.9 1259.6,461.4 1259.6,465.4 1259.6,468.4 1259.6,469.4 1259.6,470.0 1259.6,473.4 1259.6,477.4 1259.6,481.4 1259.6,485.4 1259.6,489.4 1259.6,489.5 1259.6,493.4 1259.6,495.0 1259.6,497.4 1259.6,500.0 1259.6,501.4 1259.6,505.0 1259.6,505.3 1259.6,505.4 1259.6,509.4 1259.6,513.2 1259.6,513.4 1259.6,517.4 1259.6,521.4 1259.6,525.4 1259.6,526.3 1259.6,529.4 1259.6,530.0 1259.6,533.4 1259.6,536.8 1259.6,537.4 1259.6,541.4 1259.6,545.4 1259.6,549.4 1259.6,553.4 1259.6,555.3 1259.6,557.4 1259.6,560.0 1259.6,560.5 1259.6,561.4 1259.6,563.0 1259.6,563.2 1259.6,565.4 1259.6,569.4 1259.6,569.8 1259.6,570.0 1259.6,573.4 1259.6,573.7 1259.6,574.7 1259.6,575.0 1259.6,575.6 1259.6,577.4 1259.6,578.5 1259.6,579.1 1259.6,579.9 1259.6,581.4 1259.6,582.9 1259.6,583.0 1259.6,583.5 1259.6,585.3 1259.6,585.4 1259.6,585.9 1259.6,586.6 1259.6,586.8 1259.6,588.4 1259.6,589.4 1259.6,590.3 1259.6,592.3 1259.6,593.2 1259.6,593.4 1259.6,593.5 1259.6,595.2 1259.6,597.2 1259.6,597.4 1259.6,599.1 1259.6,599.6 1259.6,600.1 1259.6,600.7 1259.6,601.1 1259.6,601.4 1259.6,602.0 1259.6,603.0 1259.6,604.0 1259.6,604.5 1259.6,605.4 1259.6,605.8 1259.6,606.2 1259.6,607.0 1259.6,607.4 1259.6,607.7 1259.6,607.9 1259.6,608.9 1259.6,609.4 1259.6,609.9 1259.6,610.2 1259.6,610.8 1259.6,611.3 1259.6,611.8 1259.6,612.0 1259.6,612.5 1259.6,613.4 1259.6,614.0 1259.6,614.2 1259.6,614.3 1259.6,614.6 1259.6,615.5 1259.6,615.6 1259.6,616.0 1259.6,616.2 1259.6,616.5 1259.6,616.9 1259.6,617.2 1259.6,617.4 1259.6,617.5 1259.6,619.0 1259.6,619.3 1259.6,619.4 1259.6,619.5 1259.6,620.0 1009.3,620.0" fill="#8b4000"/>
<polygon points="1009.3,137.4 1259.6,137.4 1259.6,141.4 1259.6,145.4 1259.6,146.1 1259.6,147.4 1259.6,149.4 1259.6,153.4 1259.6,154.8 1259.6,157.3 1259.6,157.4 1259.6,161.4 1259.6,164.7 1259.6,165.4 1259.6,167.0 1259.6,169.4 1259.6,169.7 1259.6,173.4 1259.6,177.4 1259.6,179.6 1259.6,181.4 1259.6,185.1 1259.6,185.4 1259.6,187.1 1259.6,189.4 1259.6,193.4 1259.6,197.4 1259.6,198.2 1259.6,199.5 1259.6,200.0 1259.6,201.4 1259.6,205.4 1259.6,209.4 1259.6,211.9 1259.6,213.4 1259.6,217.4 1259.6,221.4 1259.6,225.4 1259.6,226.3 1259.6,226.8 1259.6,229.4 1259.6,230.0 1259.6,233.4 1259.6,237.4 1259.6,239.9 1259.6,241.4 1259.6,245.4 1259.6,249.4 1259.6,250.0 1259.6,253.4 1259.6,253.6 1259.6,257.0 1259.6,257.4 1259.6,261.4 1259.6,263.0 1259.6,265.4 1259.6,269.0 1259.6,269.4 1259.6,269.7 1259.6,272.0 1259.6,273.4 1259.6,277.4 1259.6,279.0 1259.6,281.4 1259.6,283.8 1259.6,284.3 1259.6,285.4 1259.6,289.4 1259.6,290.0 1259.6,293.4 1259.6,295.0 1259.6,297.4 1259.6,298.7 1259.6,300.0 1259.6,300.4 1259.6,301.4 1259.6,305.4 1259.6,309.0 1259.6,309.4 1259.6,309.9 1259.6,313.4 1259.6,314.8 1259.6,317.4 1259.6,320.0 1259.6,321.4 1259.6,322.3 1259.6,325.4 1259.6,329.4 1259.6,330.9 1259.6,332.2 1259.6,333.4 1259.6,337.4 1259.6,341.4 1259.6,345.4 1259.6,347.1 1259.6,348.3 1259.6,349.4 1259.6,353.4 1259.6,357.4 1259.6,361.4 1259.6,364.4 1259.6,365.4 1259.6,369.4 1259.6,373.4 1259.6,377.4 1259.6,380.6 1259.6,381.4 1259.6,381.8 1259.6,385.4 1259.6,389.4 1259.6,393.4 1259.6,394.2 1259.6,397.4 1259.6,399.2 1259.6,401.4 1259.6,405.4 1259.6,409.4 1259.6,413.0 1259.6,413.4 1259.6,415.3 1259.6,416.0 1259.6,417.4 1259.6,419.0 1259.6,420.0 1259.6,421.4 1259.6,425.4 1259.6,429.4 1259.6,430.0 1259.6,433.4 1259.6,433.9 1259.6,437.4 1259.6,438.9 1259.6,441.4 1259.6,445.4 1259.6,449.4 1259.6,450.0 1259.6,451.3 1259.6,453.0 1259.6,453.4 1259.6,455.0 1259.6,457.4 1259.6,457.9 1259.6,461.4 1259.6,465.4 1259.6,468.4 1259.6,469.4 1259.6,470.0 1259.6,473.4 1259.6,477.4 1259.6,481.4 1259.6,485.4 1259.6,489.4 1259.6,489.5 1259.6,493.4 1259.6,495.0 1259.6,497.4 1259.6,500.0 1259.6,501.4 1259.6,505.0 1259.6,505.3 1259.6,505.4 1259.6,509.4 1259.6,513.2 1259.6,513.4 1259.6,517.4 1259.6,521.4 1259.6,525.4 1259.6,526.3 1259.6,529.4 1259.6,530.0 1259.6,533.4 1259.6,536.8 1259.6,537.4 1259.6,541.4 1259.6,545.4 1259.6,549.4 1259.6,553.4 1259.6,555.3 1259.6,557.4 1259.6,560.0 1259.6,560.5 1259.6,561.4 1259.6,563.0 1259.6,563.2 1259.6,565.4 1259.6,569.4 1259.6,569.8 1259.6,570.0 1259.6,573.4 1259.6,573.7 1259.6,574.7 1259.6,575.0 1258.7,575.6 1253.4,577.4 1250.2,578.5 1248.4,579.1 1248.5,579.9 1248.7,581.4 1248.8,582.9 1248.8,583.0 1248.9,583.5 1250.3,585.3 1250.4,585.4 1250.8,585.9 1251.4,586.6 1251.5,586.8 1252.8,588.4 1253.3,589.4 1253.8,590.3 1254.8,592.3 1255.3,593.2 1255.3,593.4 1255.3,593.5 1255.1,595.2 1255.0,597.2 1254.9,597.4 1254.8,599.1 1254.4,599.6 1253.9,600.1 1253.4,600.7 1253.0,601.1 1252.7,601.4 1252.2,602.0 1251.3,603.0 1250.4,604.0 1249.4,604.5 1247.6,605.4 1246.8,605.8 1246.0,606.2 1244.4,607.0 1243.6,607.4 1243.0,607.7 1242.6,607.9 1240.0,608.9 1238.7,609.4 1237.4,609.9 1236.6,610.2 1235.1,610.8 1233.8,611.3 1231.3,611.8 1230.4,612.0 1227.9,612.5 1223.5,613.4 1220.6,614.0 1219.6,614.2 1219.1,614.3 1216.0,614.6 1206.8,615.5 1205.8,615.6 1201.7,616.0 1199.6,616.2 1193.7,616.5 1185.9,616.9 1180.0,617.2 1171.1,617.4 1166.7,617.5 1100.0,619.0 1097.8,619.3 1097.0,619.4 1097.0,619.5 1097.0,620.0 1009.3,620.0" fill="#7030a0"/>
<polygon points="1009.3,137.4 1259.6,137.4 1259.6,141.4 1259.6,145.4 1259.6,146.1 1259.6,147.4 1259.6,149.4 1259.6,153.4 1259.6,154.8 1259.6,157.3 1259.6,157.4 1259.6,161.4 1259.6,164.7 1259.6,165.4 1259.6,167.0 1259.6,169.4 1259.6,169.7 1259.6,173.4 1259.6,177.4 1259.6,179.6 1259.6,181.4 1259.6,185.1 1259.6,185.4 1259.6,187.1 1259.6,189.4 1259.6,193.4 1259.6,197.4 1259.6,198.2 1259.6,199.5 1259.6,200.0 1259.6,201.4 1259.6,205.4 1259.6,209.4 1259.6,211.9 1259.6,213.4 1259.6,217.4 1259.6,221.4 1259.6,225.4 1259.6,226.3 1259.6,226.8 1259.6,229.4 1259.6,230.0 1259.6,233.4 1259.6,237.4 1259.6,239.9 1259.6,241.4 1259.6,245.4 1259.6,249.4 1259.6,250.0 1259.6,253.4 1259.6,253.6 1259.6,257.0 1259.6,257.4 1259.6,261.4 1259.6,263.0 1259.6,265.4 1259.6,269.0 1259.6,269.4 1259.6,269.7 1259.6,272.0 1259.6,273.4 1259.6,277.4 1259.6,279.0 1259.6,281.4 1259.6,283.8 1259.6,284.3 1259.6,285.4 1259.6,289.4 1259.6,290.0 1259.6,293.4 1259.6,295.0 1259.6,297.4 1259.6,298.7 1259.6,300.0 1259.6,300.4 1259.6,301.4 1259.6,305.4 1259.6,309.0 1259.6,309.4 1259.6,309.9 1259.6,313.4 1259.6,314.8 1259.6,317.4 1259.6,320.0 1259.6,321.4 1259.6,322.3 1259.6,325.4 1259.6,329.4 1259.6,330.9 1259.6,332.2 1259.6,333.4 1259.6,337.4 1259.6,341.4 1259.6,345.4 1259.6,347.1 1259.6,348.3 1259.6,349.4 1259.6,353.4 1259.6,357.4 1259.6,361.4 1259.6,364.4 1259.6,365.4 1259.6,369.4 1259.6,373.4 1259.6,377.4 1259.6,380.6 1259.6,381.4 1259.6,381.8 1259.6,385.4 1259.6,389.4 1259.6,393.4 1259.6,394.2 1259.6,397.4 1259.6,399.2 1259.6,401.4 1259.6,405.4 1259.6,409.4 1259.6,413.0 1259.6,413.4 1259.6,415.3 1259.6,416.0 1259.6,417.4 1259.6,419.0 1259.6,420.0 1259.6,421.4 1259.6,425.4 1259.6,429.4 1259.6,430.0 1259.6,433.4 1259.6,433.9 1259.6,437.4 1259.6,438.9 1259.6,441.4 1259.6,445.4 1259.6,449.4 1259.6,450.0 1259.6,451.3 1259.6,453.0 1259.6,453.4 1259.6,455.0 1259.6,457.4 1259.6,457.9 1259.6,461.4 1259.6,465.4 1259.6,468.4 1259.6,469.4 1259.6,470.0 1259.6,473.4 1259.6,477.4 1259.6,481.4 1259.6,485.4 1259.6,489.4 1259.6,489.5 1259.6,493.4 1259.6,495.0 1259.6,497.4 1259.6,500.0 1259.6,501.4 1259.6,505.0 1259.6,505.3 1259.6,505.4 1259.6,509.4 1259.6,513.2 1259.6,513.4 1259.6,517.4 1259.6,521.4 1259.6,525.4 1259.6,526.3 1259.6,529.4 1259.6,530.0 1259.6,533.4 1259.6,536.8 1259.6,537.4 1259.6,541.4 1259.6,545.4 1259.6,549.4 1259.6,553.4 1259.6,555.3 1259.6,557.4 1259.6,560.0 1259.6,560.5 1259.6,561.4 1259.6,563.0 1259.6,563.2 1259.6,565.4 1259.6,569.4 1259.6,569.8 1259.6,570.0 1259.6,573.4 1259.6,573.7 1259.6,574.7 1259.6,575.0 1258.7,575.6 1252.7,577.4 1249.0,578.5 1240.6,579.1 1240.7,579.9 1240.9,581.4 1241.1,582.9 1241.1,583.0 1242.4,583.5 1246.9,585.3 1247.1,585.4 1248.4,585.9 1249.0,586.6 1249.1,586.8 1250.4,588.4 1251.2,589.4 1251.9,590.3 1252.3,592.3 1252.4,593.2 1252.5,593.4 1252.5,593.5 1252.8,595.2 1252.6,597.2 1252.6,597.4 1252.5,599.1 1252.4,599.6 1252.4,600.1 1251.6,600.7 1251.0,601.1 1250.6,601.4 1249.8,602.0 1248.4,603.0 1244.9,604.0 1243.2,604.5 1240.1,605.4 1238.7,605.8 1235.7,606.2 1229.8,607.0 1226.9,607.4 1224.4,607.7 1222.7,607.9 1214.2,608.9 1211.7,609.4 1209.2,609.9 1207.7,610.2 1204.6,610.8 1202.1,611.3 1199.6,611.8 1198.2,612.0 1194.7,612.5 1188.4,613.4 1184.2,614.0 1182.8,614.2 1182.1,614.3 1180.0,614.6 1148.7,615.5 1145.2,615.6 1131.3,616.0 1124.3,616.2 1113.9,616.5 1100.0,616.9 1092.5,617.2 1087.5,617.4 1085.0,617.5 1075.0,619.0 1073.0,619.3 1073.0,619.4 1073.0,619.5 1073.0,620.0 1009.3,620.0" fill="#00ff00"/>
<polygon points="1009.3,137.4 1259.6,137.4 1259.6,141.4 1259.6,145.4 1259.6,146.1 1259.6,147.4 1259.6,149.4 1259.6,153.4 1259.6,154.8 1259.6,157.3 1259.6,157.4 1259.6,161.4 1259.6,164.7 1259.6,165.4 1259.6,167.0 1259.6,169.4 1259.6,169.7 1259.6,173.4 1259.6,177.4 1259.6,179.6 1259.6,181.4 1259.6,185.1 1259.6,185.4 1259.6,187.1 1259.6,189.4 1259.6,193.4 1259.6,197.4 1259.6,198.2 1259.6,199.5 1259.6,200.0 1259.6,201.4 1259.6,205.4 1259.6,209.4 1259.6,211.9 1259.6,213.4 1259.6,217.4 1259.6,221.4 1259.6,225.4 1259.6,226.3 1259.6,226.8 1259.6,229.4 1259.6,230.0 1259.6,233.4 1259.6,237.4 1259.6,239.9 1259.6,241.4 1259.6,245.4 1259.6,249.4 1259.6,250.0 1259.6,253.4 1259.6,253.6 1259.6,257.0 1259.6,257.4 1259.6,261.4 1259.6,263.0 1259.6,265.4 1259.6,269.0 1259.6,269.4 1259.6,269.7 1259.6,272.0 1259.6,273.4 1259.6,277.4 1259.6,279.0 1259.6,281.4 1259.6,283.8 1259.6,284.3 1259.6,285.4 1259.6,289.4 1259.6,290.0 1259.6,293.4 1259.6,295.0 1259.6,297.4 1259.6,298.7 1259.6,300.0 1259.6,300.4 1259.6,301.4 1259.6,305.4 1259.6,309.0 1259.6,309.4 1259.6,309.9 1259.6,313.4 1259.6,314.8 1259.6,317.4 1259.6,320.0 1259.6,321.4 1259.6,322.3 1259.6,325.4 1259.6,329.4 1259.6,330.9 1259.6,332.2 1259.6,333.4 1259.6,337.4 1259.6,341.4 1259.6,345.4 1259.6,347.1 1259.6,348.3 1259.6,349.4 1259.6,353.4 1259.6,357.4 1259.6,361.4 1259.6,364.4 1259.6,365.4 1259.6,369.4 1259.6,373.4 1259.6,377.4 1259.6,380.6 1259.6,381.4 1259.6,381.8 1259.6,385.4 1259.6,389.4 1259.6,393.4 1259.6,394.2 1259.6,397.4 1259.6,399.2 1259.6,401.4 1259.6,405.4 1259.6,409.4 1259.6,413.0 1259.6,413.4 1259.6,415.3 1259.6,416.0 1259.6,417.4 1259.6,419.0 1259.6,420.0 1259.6,421.4 1259.6,425.4 1259.6,429.4 1259.6,430.0 1259.2,433.4 1259.1,433.9 1258.7,437.4 1258.5,438.9 1258.2,441.4 1257.8,445.4 1257.3,449.4 1257.2,450.0 1256.9,451.3 1256.5,453.0 1256.4,453.4 1256.0,455.0 1255.4,457.4 1255.3,457.9 1254.4,461.4 1253.4,465.4 1252.7,468.4 1252.8,469.4 1252.8,470.0 1253.2,473.4 1253.5,477.4 1253.9,481.4 1254.2,485.4 1254.6,489.4 1254.6,489.5 1253.5,493.4 1253.1,495.0 1252.4,497.4 1251.7,500.0 1251.3,501.4 1250.3,505.0 1250.2,505.3 1250.2,505.4 1249.1,509.4 1248.0,513.2 1248.0,513.4 1247.8,517.4 1247.5,521.4 1247.3,525.4 1247.3,526.3 1247.1,529.4 1247.1,530.0 1246.9,533.4 1246.7,536.8 1246.9,537.4 1248.3,541.4 1249.8,545.4 1251.2,549.4 1252.6,553.4 1253.3,555.3 1253.3,557.4 1253.3,560.0 1253.3,560.5 1253.3,561.4 1253.3,563.0 1253.3,563.2 1253.3,565.4 1253.3,569.4 1253.3,569.8 1253.2,570.0 1252.3,573.4 1252.2,573.7 1251.9,574.7 1251.1,575.0 1249.6,575.6 1245.0,577.4 1241.8,578.5 1240.1,579.1 1240.0,579.9 1239.9,581.4 1239.8,582.9 1239.8,583.0 1240.9,583.5 1245.0,585.3 1245.3,585.4 1246.4,585.9 1248.0,586.6 1248.2,586.8 1249.4,588.4 1250.2,589.4 1250.9,590.3 1251.3,592.3 1251.5,593.2 1251.5,593.4 1251.6,593.5 1251.9,595.2 1251.7,597.2 1251.7,597.4 1251.5,599.1 1251.4,599.6 1250.7,600.1 1249.8,600.7 1249.3,601.1 1248.9,601.4 1248.0,602.0 1244.3,603.0 1240.6,604.0 1238.7,604.5 1232.5,605.4 1229.7,605.8 1226.9,606.2 1220.1,607.0 1216.7,607.4 1214.2,607.7 1212.9,607.9 1206.2,608.9 1202.9,609.4 1199.6,609.9 1196.5,610.2 1190.3,610.8 1185.2,611.3 1180.0,611.8 1173.3,612.0 1156.7,612.5 1126.7,613.4 1106.7,614.0 1100.0,614.2 1098.1,614.3 1092.3,614.6 1074.9,615.5 1073.0,615.6 1040.0,616.0 1030.8,616.2 1017.0,616.5 1016.3,616.9 1015.7,617.2 1015.4,617.4 1015.2,617.5 1012.5,619.0 1012.0,619.3 1012.0,619.4 1012.0,619.5 1012.0,620.0 1009.3,620.0" fill="#0000ff"/>
<polygon points="1009.3,137.4 1230.0,137.4 1230.4,141.4 1230.7,145.4 1230.8,146.1 1235.5,147.4 1235.6,149.4 1235.9,153.4 1236.0,154.8 1236.2,157.3 1236.2,157.4 1235.0,161.4 1234.0,164.7 1233.8,165.4 1233.3,167.0 1232.6,169.4 1232.5,169.7 1233.2,173.4 1234.0,177.4 1234.4,179.6 1234.8,181.4 1235.5,185.1 1234.9,185.4 1231.4,187.1 1226.8,189.4 1218.6,193.4 1210.5,197.4 1208.9,198.2 1208.7,199.5 1208.6,200.0 1208.3,201.4 1207.6,205.4 1206.9,209.4 1206.4,211.9 1207.8,213.4 1211.6,217.4 1215.4,221.4 1219.2,225.4 1220.1,226.3 1219.0,226.8 1213.0,229.4 1211.7,230.0 1203.9,233.4 1194.8,237.4 1189.1,239.9 1190.2,241.4 1193.3,245.4 1196.3,249.4 1196.8,250.0 1199.3,253.4 1199.5,253.6 1193.4,257.0 1192.6,257.4 1185.4,261.4 1182.5,263.0 1178.2,265.4 1171.7,269.0 1171.6,269.4 1171.5,269.7 1170.7,272.0 1170.2,273.4 1168.9,277.4 1168.3,279.0 1167.5,281.4 1166.7,283.8 1165.9,284.3 1164.1,285.4 1157.8,289.4 1156.8,290.0 1150.0,293.4 1146.8,295.0 1142.0,297.4 1139.4,298.7 1138.0,300.0 1137.5,300.4 1136.4,301.4 1132.0,305.4 1128.0,309.0 1127.6,309.4 1127.0,309.9 1122.1,313.4 1120.2,314.8 1116.5,317.4 1112.9,320.0 1111.0,321.4 1109.7,322.3 1099.9,325.4 1087.2,329.4 1082.4,330.9 1082.4,332.2 1082.3,333.4 1082.2,337.4 1082.1,341.4 1082.0,345.4 1081.9,347.1 1081.9,348.3 1080.2,349.4 1074.2,353.4 1068.2,357.4 1062.1,361.4 1057.6,364.4 1059.4,365.4 1066.5,369.4 1073.7,373.4 1080.8,377.4 1086.5,380.6 1087.0,381.4 1087.2,381.8 1089.3,385.4 1091.7,389.4 1094.1,393.4 1094.5,394.2 1096.4,397.4 1097.5,399.2 1102.8,401.4 1112.6,405.4 1122.3,409.4 1131.0,413.0 1131.6,413.4 1134.5,415.3 1135.5,416.0 1134.2,417.4 1134.9,419.0 1135.4,420.0 1136.1,421.4 1137.9,425.4 1139.8,429.4 1140.1,430.0 1141.7,433.4 1141.9,433.9 1144.4,437.4 1145.5,438.9 1147.2,441.4 1150.1,445.4 1152.9,449.4 1153.4,450.0 1154.3,451.3 1160.0,453.0 1162.2,453.4 1171.2,455.0 1184.7,457.4 1187.5,457.9 1194.8,461.4 1203.1,465.4 1209.3,468.4 1208.9,469.4 1208.6,470.0 1207.2,473.4 1205.6,477.4 1203.9,481.4 1202.3,485.4 1200.6,489.4 1200.6,489.5 1197.4,493.4 1196.0,495.0 1194.0,497.4 1191.9,500.0 1190.7,501.4 1187.7,505.0 1187.5,505.3 1187.3,505.4 1180.9,509.4 1174.8,513.2 1175.3,513.4 1184.8,517.4 1194.3,521.4 1203.8,525.4 1205.9,526.3 1204.3,529.4 1204.0,530.0 1202.3,533.4 1200.6,536.8 1200.6,537.4 1200.5,541.4 1200.4,545.4 1200.4,549.4 1200.3,553.4 1200.2,555.3 1200.2,557.4 1200.2,560.0 1200.2,560.5 1200.1,561.4 1200.1,563.0 1200.1,563.2 1193.6,565.4 1181.8,569.4 1180.6,569.8 1180.0,570.0 1170.0,573.4 1169.1,573.7 1163.5,574.7 1161.8,575.0 1158.5,575.6 1148.4,577.4 1142.3,578.5 1138.9,579.1 1134.5,579.9 1126.1,581.4 1117.7,582.9 1118.4,583.0 1122.0,583.5 1134.7,585.3 1135.5,585.4 1139.0,585.9 1144.0,586.6 1145.4,586.8 1155.5,588.4 1161.8,589.4 1167.4,590.3 1180.0,592.3 1194.7,593.2 1195.3,593.4 1195.7,593.5 1201.1,595.2 1207.4,597.2 1207.7,597.4 1210.2,599.1 1211.0,599.6 1211.7,600.1 1212.6,600.7 1213.2,601.1 1212.8,601.4 1212.0,602.0 1210.6,603.0 1209.3,604.0 1207.4,604.5 1204.1,605.4 1202.6,605.8 1201.1,606.2 1198.1,607.0 1196.6,607.4 1195.4,607.7 1194.7,607.9 1189.6,608.9 1187.1,609.4 1184.6,609.9 1183.0,610.2 1180.0,610.8 1165.3,611.3 1150.6,611.8 1144.7,612.0 1130.0,612.5 1100.0,613.4 1080.0,614.0 1078.9,614.2 1078.4,614.3 1076.8,614.6 1072.0,615.5 1065.6,615.6 1040.0,616.0 1030.4,616.2 1016.2,616.5 1015.4,616.9 1015.0,617.2 1014.7,617.4 1014.6,617.5 1012.4,619.0 1012.0,619.3 1012.0,619.4 1012.0,619.5 1012.0,620.0 1009.3,620.0" fill="#ffa500"/>
<polygon points="1009.3,137.4 1022.7,137.4 1022.2,141.4 1021.6,145.4 1021.5,146.1 1021.3,147.4 1021.1,149.4 1020.5,153.4 1020.3,154.8 1020.9,157.3 1021.0,157.4 1022.0,161.4 1022.8,164.7 1023.0,165.4 1023.6,167.0 1024.4,169.4 1024.5,169.7 1025.7,173.4 1027.1,177.4 1027.8,179.6 1028.7,181.4 1030.5,185.1 1030.7,185.4 1031.5,187.1 1035.0,189.4 1041.0,193.4 1047.0,197.4 1048.1,198.2 1050.1,199.5 1050.1,200.0 1050.2,201.4 1050.4,205.4 1050.5,209.4 1050.6,211.9 1050.7,213.4 1050.9,217.4 1051.1,221.4 1051.2,225.4 1051.3,226.3 1051.3,226.8 1053.8,229.4 1054.4,230.0 1057.6,233.4 1061.4,237.4 1063.8,239.9 1063.0,241.4 1060.8,245.4 1058.6,249.4 1058.3,250.0 1056.4,253.4 1056.3,253.6 1060.5,257.0 1061.0,257.4 1065.9,261.4 1067.9,263.0 1070.9,265.4 1075.3,269.0 1075.8,269.4 1076.2,269.7 1073.5,272.0 1071.8,273.4 1067.0,277.4 1065.1,279.0 1062.3,281.4 1059.4,283.8 1058.8,284.3 1059.4,285.4 1062.3,289.4 1063.0,290.0 1066.1,293.4 1067.5,295.0 1069.7,297.4 1070.9,298.7 1072.9,300.0 1073.5,300.4 1072.0,301.4 1066.0,305.4 1060.7,309.0 1060.1,309.4 1059.3,309.9 1054.1,313.4 1052.0,314.8 1052.6,317.4 1053.9,320.0 1054.6,321.4 1055.0,322.3 1056.6,325.4 1058.6,329.4 1059.3,330.9 1060.0,332.2 1059.5,333.4 1057.8,337.4 1056.2,341.4 1054.5,345.4 1053.8,347.1 1053.7,348.3 1053.6,349.4 1053.2,353.4 1052.8,357.4 1052.4,361.4 1052.1,364.4 1054.0,365.4 1061.5,369.4 1068.9,373.4 1076.4,377.4 1082.4,380.6 1082.9,381.4 1083.1,381.8 1085.3,385.4 1087.7,389.4 1090.0,393.4 1090.5,394.2 1092.4,397.4 1093.5,399.2 1098.9,401.4 1108.8,405.4 1118.7,409.4 1127.5,413.0 1128.5,413.4 1133.2,415.3 1133.5,416.0 1134.2,417.4 1134.9,419.0 1135.4,420.0 1136.1,421.4 1137.9,425.4 1139.8,429.4 1140.1,430.0 1141.7,433.4 1141.9,433.9 1144.4,437.4 1145.5,438.9 1147.2,441.4 1150.1,445.4 1152.9,449.4 1153.4,450.0 1154.3,451.3 1160.0,453.0 1162.2,453.4 1171.2,455.0 1184.7,457.4 1187.5,457.9 1194.8,461.4 1203.1,465.4 1209.3,468.4 1208.9,469.4 1208.6,470.0 1207.2,473.4 1205.6,477.4 1203.9,481.4 1202.3,485.4 1200.6,489.4 1200.6,489.5 1197.4,493.4 1196.0,495.0 1194.0,497.4 1191.9,500.0 1190.7,501.4 1187.7,505.0 1187.5,505.3 1187.3,505.4 1180.9,509.4 1174.8,513.2 1175.3,513.4 1184.8,517.4 1194.3,521.4 1203.8,525.4 1205.9,526.3 1204.3,529.4 1204.0,530.0 1202.3,533.4 1200.6,536.8 1200.6,537.4 1200.5,541.4 1200.4,545.4 1200.4,549.4 1200.3,553.4 1200.2,555.3 1200.2,557.4 1200.2,560.0 1200.2,560.5 1200.1,561.4 1200.1,563.0 1200.1,563.2 1193.6,565.4 1181.8,569.4 1180.6,569.8 1180.0,570.0 1170.0,573.4 1169.1,573.7 1163.5,574.7 1161.8,575.0 1158.5,575.6 1148.4,577.4 1142.3,578.5 1138.9,579.1 1134.5,579.9 1126.1,581.4 1117.7,582.9 1118.4,583.0 1122.0,583.5 1134.7,585.3 1135.5,585.4 1139.0,585.9 1144.0,586.6 1145.4,586.8 1155.5,588.4 1161.8,589.4 1167.4,590.3 1180.0,592.3 1194.7,593.2 1195.3,593.4 1195.7,593.5 1201.1,595.2 1207.4,597.2 1207.7,597.4 1210.2,599.1 1211.0,599.6 1211.7,600.1 1212.6,600.7 1213.2,601.1 1212.8,601.4 1212.0,602.0 1210.6,603.0 1209.3,604.0 1207.4,604.5 1204.1,605.4 1202.6,605.8 1201.1,606.2 1198.1,607.0 1196.6,607.4 1195.4,607.7 1194.7,607.9 1189.6,608.9 1187.1,609.4 1184.6,609.9 1183.0,610.2 1180.0,610.8 1165.3,611.3 1150.6,611.8 1144.7,612.0 1130.0,612.5 1100.0,613.4 1080.0,614.0 1078.9,614.2 1078.4,614.3 1076.8,614.6 1072.0,615.5 1065.6,615.6 1040.0,616.0 1030.4,616.2 1016.2,616.5 1015.4,616.9 1015.0,617.2 1014.7,617.4 1014.6,617.5 1012.4,619.0 1012.0,619.3 1012.0,619.4 1012.0,619.5 1012.0,620.0 1009.3,620.0" fill="#00ffff"/>
<polygon points="1009.3,137.4 1019.7,137.4 1018.7,141.4 1017.7,145.4 1017.6,146.1 1017.2,147.4 1016.7,149.4 1015.7,153.4 1015.4,154.8 1016.0,157.3 1016.1,157.4 1017.1,161.4 1017.9,164.7 1018.2,165.4 1018.9,167.0 1019.9,169.4 1020.0,169.7 1021.5,173.4 1023.2,177.4 1024.1,179.6 1025.0,181.4 1026.8,185.1 1027.0,185.4 1027.8,187.1 1031.4,189.4 1037.6,193.4 1043.8,197.4 1045.1,198.2 1047.1,199.5 1047.1,200.0 1047.2,201.4 1047.5,205.4 1047.8,209.4 1047.9,211.9 1048.0,213.4 1048.3,217.4 1048.5,221.4 1048.8,225.4 1048.9,226.3 1048.9,226.8 1051.4,229.4 1051.9,230.0 1055.1,233.4 1058.9,237.4 1061.3,239.9 1060.4,241.4 1058.0,245.4 1055.6,249.4 1055.3,250.0 1053.2,253.4 1053.1,253.6 1057.5,257.0 1058.0,257.4 1063.1,261.4 1065.1,263.0 1068.2,265.4 1072.8,269.0 1073.3,269.4 1073.7,269.7 1071.0,272.0 1069.4,273.4 1064.8,277.4 1062.9,279.0 1060.2,281.4 1057.4,283.8 1056.8,284.3 1058.0,285.4 1062.3,289.4 1063.0,290.0 1066.1,293.4 1067.5,295.0 1069.7,297.4 1070.9,298.7 1072.0,300.0 1072.4,300.4 1070.9,301.4 1064.7,305.4 1059.1,309.0 1058.5,309.4 1057.7,309.9 1052.3,313.4 1051.3,314.8 1052.6,317.4 1053.9,320.0 1054.6,321.4 1055.0,322.3 1056.6,325.4 1058.6,329.4 1059.3,330.9 1060.0,332.2 1059.5,333.4 1057.8,337.4 1056.2,341.4 1054.5,345.4 1053.8,347.1 1053.7,348.3 1053.6,349.4 1053.2,353.4 1052.8,357.4 1052.4,361.4 1052.1,364.4 1054.0,365.4 1061.5,369.4 1068.9,373.4 1076.4,377.4 1082.4,380.6 1082.9,381.4 1083.1,381.8 1085.3,385.4 1087.7,389.4 1090.0,393.4 1090.5,394.2 1092.4,397.4 1093.5,399.2 1098.9,401.4 1108.8,405.4 1118.7,409.4 1127.5,413.0 1128.5,413.4 1133.2,415.3 1133.5,416.0 1134.2,417.4 1134.9,419.0 1135.4,420.0 1136.1,421.4 1137.9,425.4 1139.8,429.4 1140.1,430.0 1141.7,433.4 1141.9,433.9 1144.4,437.4 1145.5,438.9 1147.2,441.4 1150.1,445.4 1152.9,449.4 1153.4,450.0 1154.3,451.3 1160.0,453.0 1162.2,453.4 1171.2,455.0 1184.7,457.4 1187.5,457.9 1194.8,461.4 1203.1,465.4 1209.3,468.4 1208.9,469.4 1208.6,470.0 1207.2,473.4 1205.6,477.4 1203.9,481.4 1202.3,485.4 1200.6,489.4 1200.6,489.5 1197.4,493.4 1196.0,495.0 1194.0,497.4 1191.9,500.0 1190.7,501.4 1187.7,505.0 1187.5,505.3 1187.3,505.4 1180.9,509.4 1174.8,513.2 1175.3,513.4 1184.8,517.4 1194.3,521.4 1203.8,525.4 1205.9,526.3 1204.3,529.4 1204.0,530.0 1202.3,533.4 1200.6,536.8 1200.6,537.4 1200.5,541.4 1200.4,545.4 1200.4,549.4 1200.3,553.4 1200.2,555.3 1200.2,557.4 1200.2,560.0 1200.2,560.5 1200.1,561.4 1200.1,563.0 1200.1,563.2 1193.6,565.4 1181.8,569.4 1180.6,569.8 1180.0,570.0 1170.0,573.4 1169.1,573.7 1163.5,574.7 1161.8,575.0 1158.5,575.6 1148.4,577.4 1142.3,578.5 1138.9,579.1 1134.5,579.9 1126.1,581.4 1117.7,582.9 1118.4,583.0 1122.0,583.5 1134.7,585.3 1135.5,585.4 1139.0,585.9 1144.0,586.6 1145.4,586.8 1155.5,588.4 1161.8,589.4 1167.4,590.3 1180.0,592.3 1194.7,593.2 1195.3,593.4 1195.7,593.5 1201.1,595.2 1207.4,597.2 1207.7,597.4 1210.2,599.1 1211.0,599.6 1211.7,600.1 1212.6,600.7 1213.2,601.1 1212.8,601.4 1212.0,602.0 1210.6,603.0 1209.3,604.0 1207.4,604.5 1204.1,605.4 1202.6,605.8 1201.1,606.2 1198.1,607.0 1196.6,607.4 1195.4,607.7 1194.7,607.9 1189.6,608.9 1187.1,609.4 1184.6,609.9 1183.0,610.2 1180.0,610.8 1165.3,611.3 1150.6,611.8 1144.7,612.0 1130.0,612.5 1100.0,613.4 1080.0,614.0 1078.9,614.2 1078.4,614.3 1076.8,614.6 1072.0,615.5 1065.6,615.6 1040.0,616.0 1030.4,616.2 1016.2,616.5 1015.4,616.9 1015.0,617.2 1014.7,617.4 1014.6,617.5 1012.4,619.0 1012.0,619.3 1012.0,619.4 1012.0,619.5 1012.0,620.0 1009.3,620.0" fill="#ff00ff"/>
<polygon points="1009.3,137.4 1019.7,137.4 1018.7,141.4 1017.7,145.4 1017.6,146.1 1017.2,147.4 1016.7,149.4 1015.7,153.4 1015.4,154.8 1016.0,157.3 1016.1,157.4 1017.1,161.4 1017.9,164.7 1018.2,165.4 1018.9,167.0 1019.9,169.4 1020.0,169.7 1021.5,173.4 1023.2,177.4 1024.1,179.6 1025.0,181.4 1026.8,185.1 1027.0,185.4 1027.8,187.1 1031.4,189.4 1037.6,193.4 1043.8,197.4 1045.1,198.2 1047.1,199.5 1047.1,200.0 1047.2,201.4 1047.5,205.4 1047.8,209.4 1047.9,211.9 1048.0,213.4 1048.3,217.4 1048.5,221.4 1048.8,225.4 1048.9,226.3 1048.9,226.8 1051.4,229.4 1051.9,230.0 1055.1,233.4 1058.9,237.4 1061.3,239.9 1060.4,241.4 1058.0,245.4 1055.6,249.4 1055.3,250.0 1053.2,253.4 1053.1,253.6 1057.5,257.0 1058.0,257.4 1063.1,261.4 1065.1,263.0 1068.2,265.4 1072.8,269.0 1073.3,269.4 1073.7,269.7 1071.0,272.0 1069.4,273.4 1064.8,277.4 1062.9,279.0 1060.2,281.4 1057.4,283.8 1056.8,284.3 1058.0,285.4 1062.3,289.4 1063.0,290.0 1066.1,293.4 1067.5,295.0 1069.7,297.4 1070.9,298.7 1072.0,300.0 1072.4,300.4 1070.9,301.4 1064.7,305.4 1059.1,309.0 1058.5,309.4 1057.7,309.9 1052.3,313.4 1050.1,314.8 1051.4,317.4 1052.7,320.0 1053.4,321.4 1053.8,322.3 1055.4,325.4 1057.4,329.4 1058.1,330.9 1058.8,332.2 1058.2,333.4 1056.2,337.4 1054.2,341.4 1052.2,345.4 1051.3,347.1 1050.6,348.3 1050.0,349.4 1047.7,353.4 1045.4,357.4 1043.1,361.4 1041.4,364.4 1041.9,365.4 1043.9,369.4 1045.9,373.4 1047.9,377.4 1049.5,380.6 1049.9,381.4 1050.1,381.8 1048.1,385.4 1045.8,389.4 1043.5,393.4 1043.0,394.2 1041.2,397.4 1040.2,399.2 1039.9,401.4 1039.4,405.4 1038.9,409.4 1038.5,413.0 1038.4,413.4 1038.2,415.3 1038.1,416.0 1037.9,417.4 1037.7,419.0 1037.3,420.0 1036.8,421.4 1035.3,425.4 1033.8,429.4 1033.6,430.0 1032.3,433.4 1032.2,433.9 1030.9,437.4 1030.3,438.9 1030.1,441.4 1029.9,445.4 1029.6,449.4 1029.6,450.0 1029.5,451.3 1029.4,453.0 1029.4,453.4 1029.3,455.0 1029.6,457.4 1029.6,457.9 1030.1,461.4 1030.5,465.4 1030.9,468.4 1030.6,469.4 1030.4,470.0 1029.3,473.4 1028.1,477.4 1026.8,481.4 1025.6,485.4 1024.3,489.4 1024.3,489.5 1023.9,493.4 1023.7,495.0 1023.4,497.4 1023.1,500.0 1023.0,501.4 1022.6,505.0 1022.6,505.3 1022.6,505.4 1022.1,509.4 1021.7,513.2 1021.7,513.4 1022.2,517.4 1022.6,521.4 1023.0,525.4 1023.1,526.3 1023.5,529.4 1023.6,530.0 1023.9,533.4 1024.3,536.8 1024.4,537.4 1024.8,541.4 1025.2,545.4 1025.7,549.4 1026.1,553.4 1026.3,555.3 1026.6,557.4 1026.8,560.0 1026.9,560.5 1026.9,561.4 1027.0,563.0 1027.0,563.2 1027.0,565.4 1027.1,569.4 1027.1,569.8 1027.1,570.0 1026.2,573.4 1026.1,573.7 1025.8,574.7 1025.7,575.0 1025.6,575.6 1025.1,577.4 1024.8,578.5 1024.6,579.1 1024.4,579.9 1025.2,581.4 1025.9,582.9 1026.0,583.0 1026.2,583.5 1027.1,585.3 1027.3,585.4 1028.4,585.9 1030.0,586.6 1030.4,586.8 1033.9,588.4 1036.1,589.4 1038.1,590.3 1042.5,592.3 1044.4,593.2 1044.9,593.4 1045.1,593.5 1049.4,595.2 1054.4,597.2 1054.9,597.4 1059.2,599.1 1060.4,599.6 1061.7,600.1 1063.2,600.7 1063.9,601.1 1064.4,601.4 1065.4,602.0 1067.1,603.0 1068.9,604.0 1069.7,604.5 1071.3,605.4 1071.9,605.8 1072.6,606.2 1074.0,607.0 1073.8,607.4 1073.6,607.7 1073.5,607.9 1072.9,608.9 1072.7,609.4 1072.4,609.9 1072.2,610.2 1069.8,610.8 1067.8,611.3 1065.8,611.8 1065.0,612.0 1059.0,612.5 1048.3,613.4 1041.2,614.0 1038.8,614.2 1037.8,614.3 1034.8,614.6 1025.8,615.5 1024.8,615.6 1020.8,616.0 1019.0,616.2 1016.2,616.5 1012.6,616.9 1012.2,617.2 1012.0,617.4 1011.9,617.5 1010.1,619.0 1009.7,619.3 1009.6,619.4 1009.5,619.5 1009.5,620.0 1009.3,620.0" fill="#a6a6a6"/>
<polygon points="1009.3,137.4 1009.3,137.4 1009.3,141.4 1009.4,145.4 1009.4,146.1 1009.4,147.4 1009.4,149.4 1009.5,153.4 1009.5,154.8 1009.5,157.3 1009.5,157.4 1009.5,161.4 1009.6,164.7 1009.6,165.4 1009.6,167.0 1009.8,169.4 1009.8,169.7 1010.0,173.4 1010.3,177.4 1010.4,179.6 1010.6,181.4 1010.8,185.1 1010.8,185.4 1010.9,187.1 1011.1,189.4 1011.4,193.4 1011.6,197.4 1011.7,198.2 1011.8,199.5 1011.8,200.0 1011.8,201.4 1011.8,205.4 1011.8,209.4 1011.8,211.9 1011.8,213.4 1011.8,217.4 1011.8,221.4 1011.8,225.4 1011.8,226.3 1011.8,226.8 1011.8,229.4 1011.8,230.0 1011.7,233.4 1011.7,237.4 1011.7,239.9 1011.6,241.4 1011.6,245.4 1011.5,249.4 1011.5,250.0 1011.8,253.4 1011.8,253.6 1012.1,257.0 1012.1,257.4 1012.5,261.4 1012.6,263.0 1013.1,265.4 1013.7,269.0 1013.8,269.4 1013.9,269.7 1014.3,272.0 1014.6,273.4 1015.3,277.4 1015.6,279.0 1016.1,281.4 1016.6,283.8 1016.8,284.3 1017.0,285.4 1017.9,289.4 1018.0,290.0 1018.9,293.4 1019.2,295.0 1019.9,297.4 1020.2,298.7 1020.5,300.0 1020.5,300.4 1020.5,301.4 1020.4,305.4 1020.4,309.0 1020.4,309.4 1020.4,309.9 1020.3,313.4 1020.3,314.8 1021.3,317.4 1022.4,320.0 1023.0,321.4 1023.3,322.3 1024.6,325.4 1026.2,329.4 1026.8,330.9 1027.3,332.2 1027.2,333.4 1027.1,337.4 1026.9,341.4 1026.7,345.4 1026.6,347.1 1026.5,348.3 1026.5,349.4 1026.3,353.4 1026.1,357.4 1025.9,361.4 1025.8,364.4 1026.1,365.4 1027.1,369.4 1028.1,373.4 1029.2,377.4 1030.0,380.6 1030.2,381.4 1030.3,381.8 1028.1,385.4 1025.7,389.4 1023.3,393.4 1022.8,394.2 1022.3,397.4 1022.1,399.2 1021.7,401.4 1021.1,405.4 1020.5,409.4 1020.0,413.0 1019.9,413.4 1019.7,415.3 1019.5,416.0 1019.3,417.4 1019.1,419.0 1018.9,420.0 1018.7,421.4 1018.1,425.4 1017.4,429.4 1017.3,430.0 1016.8,433.4 1016.7,433.9 1016.1,437.4 1015.9,438.9 1015.7,441.4 1015.5,445.4 1015.2,449.4 1015.2,450.0 1015.1,451.3 1015.0,453.0 1015.0,453.4 1014.9,455.0 1014.8,457.4 1014.7,457.9 1014.5,461.4 1014.3,465.4 1014.1,468.4 1014.0,469.4 1014.0,470.0 1013.8,473.4 1013.5,477.4 1013.2,481.4 1013.0,485.4 1012.7,489.4 1012.7,489.5 1012.4,493.4 1012.3,495.0 1012.2,497.4 1012.0,500.0 1011.9,501.4 1011.8,505.0 1011.7,505.3 1011.7,505.4 1011.5,509.4 1011.3,513.2 1011.3,513.4 1011.1,517.4 1010.9,521.4 1010.7,525.4 1010.7,526.3 1010.5,529.4 1010.5,530.0 1010.4,533.4 1010.3,536.8 1010.3,537.4 1010.2,541.4 1010.0,545.4 1009.9,549.4 1009.8,553.4 1009.7,555.3 1009.7,557.4 1009.6,560.0 1009.6,560.5 1009.5,561.4 1009.5,563.0 1009.5,563.2 1009.5,565.4 1009.5,569.4 1009.5,569.8 1009.5,570.0 1009.5,573.4 1009.5,573.7 1009.5,574.7 1009.5,575.0 1009.5,575.6 1009.4,577.4 1009.4,578.5 1009.4,579.1 1009.4,579.9 1009.4,581.4 1009.4,582.9 1009.4,583.0 1009.4,583.5 1009.4,585.3 1009.4,585.4 1009.4,585.9 1009.4,586.6 1009.4,586.8 1009.4,588.4 1009.4,589.4 1009.4,590.3 1009.4,592.3 1009.4,593.2 1009.4,593.4 1009.4,593.5 1009.4,595.2 1009.4,597.2 1009.4,597.4 1009.4,599.1 1009.4,599.6 1009.4,600.1 1009.4,600.7 1009.4,601.1 1009.4,601.4 1009.4,602.0 1009.4,603.0 1009.4,604.0 1009.4,604.5 1009.4,605.4 1009.3,605.8 1009.3,606.2 1009.3,607.0 1009.3,607.4 1009.3,607.7 1009.3,607.9 1009.3,608.9 1009.3,609.4 1009.3,609.9 1009.3,610.2 1009.3,610.8 1009.3,611.3 1009.3,611.8 1009.3,612.0 1009.3,612.5 1009.3,613.4 1009.3,614.0 1009.3,614.2 1009.3,614.3 1009.3,614.6 1009.3,615.5 1009.3,615.6 1009.3,616.0 1009.3,616.2 1009.3,616.5 1009.3,616.9 1009.3,617.2 1009.3,617.4 1009.3,617.5 1009.3,619.0 1009.3,619.3 1009.3,619.4 1009.3,619.5 1009.3,620.0 1009.3,620.0" fill="#ff0000"/>
<polygon points="1009.3,137.4 1009.3,137.4 1009.3,141.4 1009.4,145.4 1009.4,146.1 1009.4,147.4 1009.4,149.4 1009.4,153.4 1009.4,154.8 1009.4,157.3 1009.4,157.4 1009.5,161.4 1009.5,164.7 1009.5,165.4 1009.5,167.0 1009.6,169.4 1009.7,169.7 1009.9,173.4 1010.1,177.4 1010.2,179.6 1010.3,181.4 1010.5,185.1 1010.6,185.4 1010.7,187.1 1010.8,189.4 1011.0,193.4 1011.3,197.4 1011.3,198.2 1011.4,199.5 1011.4,200.0 1011.4,201.4 1011.4,205.4 1011.4,209.4 1011.4,211.9 1011.4,213.4 1011.4,217.4 1011.4,221.4 1011.4,225.4 1011.4,226.3 1011.4,226.8 1011.4,229.4 1011.4,230.0 1011.2,233.4 1011.1,237.4 1011.0,239.9 1010.9,241.4 1010.7,245.4 1010.5,249.4 1010.5,250.0 1010.4,253.4 1010.4,253.6 1010.2,257.0 1010.2,257.4 1009.9,261.4 1009.8,263.0 1009.7,265.4 1009.5,269.0 1009.5,269.4 1009.4,269.7 1009.3,272.0 1009.3,273.4 1009.3,277.4 1009.3,279.0 1009.3,281.4 1009.3,283.8 1009.3,284.3 1009.3,285.4 1009.3,289.4 1009.3,290.0 1009.3,293.4 1009.3,295.0 1009.3,297.4 1009.3,298.7 1009.3,300.0 1009.3,300.4 1009.3,301.4 1009.3,305.4 1009.3,309.0 1009.3,309.4 1009.3,309.9 1009.3,313.4 1009.3,314.8 1009.3,317.4 1009.3,320.0 1009.3,321.4 1009.3,322.3 1009.3,325.4 1009.3,329.4 1009.3,330.9 1009.3,332.2 1009.3,333.4 1009.3,337.4 1009.3,341.4 1009.3,345.4 1009.3,347.1 1009.3,348.3 1009.3,349.4 1009.3,353.4 1009.3,357.4 1009.3,361.4 1009.3,364.4 1009.3,365.4 1009.3,369.4 1009.3,373.4 1009.3,377.4 1009.3,380.6 1009.3,381.4 1009.3,381.8 1009.3,385.4 1009.3,389.4 1009.3,393.4 1009.3,394.2 1009.3,397.4 1009.3,399.2 1009.3,401.4 1009.3,405.4 1009.3,409.4 1009.3,413.0 1009.3,413.4 1009.3,415.3 1009.3,416.0 1009.3,417.4 1009.3,419.0 1009.3,420.0 1009.3,421.4 1009.3,425.4 1009.3,429.4 1009.3,430.0 1009.3,433.4 1009.3,433.9 1009.3,437.4 1009.3,438.9 1009.3,441.4 1009.3,445.4 1009.3,449.4 1009.3,450.0 1009.3,451.3 1009.3,453.0 1009.3,453.4 1009.3,455.0 1009.3,457.4 1009.3,457.9 1009.3,461.4 1009.3,465.4 1009.3,468.4 1009.3,469.4 1009.3,470.0 1009.3,473.4 1009.3,477.4 1009.3,481.4 1009.3,485.4 1009.3,489.4 1009.3,489.5 1009.3,493.4 1009.3,495.0 1009.3,497.4 1009.3,500.0 1009.3,501.4 1009.3,505.0 1009.3,505.3 1009.3,505.4 1009.3,509.4 1009.3,513.2 1009.3,513.4 1009.3,517.4 1009.3,521.4 1009.3,525.4 1009.3,526.3 1009.3,529.4 1009.3,530.0 1009.3,533.4 1009.3,536.8 1009.3,537.4 1009.3,541.4 1009.3,545.4 1009.3,549.4 1009.3,553.4 1009.3,555.3 1009.3,557.4 1009.3,560.0 1009.3,560.5 1009.3,561.4 1009.3,563.0 1009.3,563.2 1009.3,565.4 1009.3,569.4 1009.3,569.8 1009.3,570.0 1009.3,573.4 1009.3,573.7 1009.3,574.7 1009.3,575.0 1009.3,575.6 1009.3,577.4 1009.3,578.5 1009.3,579.1 1009.3,579.9 1009.3,581.4 1009.3,582.9 1009.3,583.0 1009.3,583.5 1009.3,585.3 1009.3,585.4 1009.3,585.9 1009.3,586.6 1009.3,586.8 1009.3,588.4 1009.3,589.4 1009.3,590.3 1009.3,592.3 1009.3,593.2 1009.3,593.4 1009.3,593.5 1009.3,595.2 1009.3,597.2 1009.3,597.4 1009.3,599.1 1009.3,599.6 1009.3,600.1 1009.3,600.7 1009.3,601.1 1009.3,601.4 1009.3,602.0 1009.3,603.0 1009.3,604.0 1009.3,604.5 1009.3,605.4 1009.3,605.8 1009.3,606.2 1009.3,607.0 1009.3,607.4 1009.3,607.7 1009.3,607.9 1009.3,608.9 1009.3,609.4 1009.3,609.9 1009.3,610.2 1009.3,610.8 1009.3,611.3 1009.3,611.8 1009.3,612.0 1009.3,612.5 1009.3,613.4 1009.3,614.0 1009.3,614.2 1009.3,614.3 1009.3,614.6 1009.3,615.5 1009.3,615.6 1009.3,616.0 1009.3,616.2 1009.3,616.5 1009.3,616.9 1009.3,617.2 1009.3,617.4 1009.3,617.5 1009.3,619.0 1009.3,619.3 1009.3,619.4 1009.3,619.5 1009.3,620.0 1009.3,620.0" fill="#000"/>

<path d="M1082.4,138.0C1083.6,139.0 1088.1,144.1 1091.1,145.4C1094.1,146.7 1100.9,146.6 1104.7,147.4C1108.5,148.2 1116.0,149.6 1119.6,151.1C1123.2,152.6 1128.7,156.2 1132.0,158.5C1135.3,160.8 1141.3,165.0 1144.4,168.5C1147.5,172.0 1154.0,180.8 1155.6,184.6C1157.2,188.4 1154.9,193.4 1156.1,197.0C1157.3,200.6 1162.4,207.9 1164.3,211.9C1166.2,215.9 1170.0,223.1 1170.5,226.8C1171.0,230.5 1168.1,236.3 1168.0,239.9C1167.9,243.5 1170.9,249.6 1169.7,253.6C1168.5,257.6 1161.4,265.6 1159.3,269.7C1157.2,273.8 1155.3,281.6 1154.3,284.3C1153.3,287.0 1153.9,287.9 1151.8,290.0C1149.7,292.1 1140.8,296.6 1138.2,299.9C1135.6,303.2 1134.3,310.7 1132.0,314.8C1129.7,318.9 1123.2,326.4 1120.8,330.9C1118.4,335.4 1115.3,343.8 1114.1,348.3C1112.9,352.8 1113.2,359.9 1112.1,364.4C1111.0,368.9 1106.2,377.2 1105.9,381.8C1105.6,386.4 1109.2,394.7 1109.7,399.2C1110.2,403.7 1109.7,410.7 1109.7,415.3C1109.7,419.9 1109.3,429.3 1109.7,433.9C1110.1,438.5 1110.6,445.3 1112.5,450.0C1114.4,454.7 1124.1,462.6 1124.3,468.9C1124.5,475.2 1116.3,491.1 1113.8,497.4C1111.3,503.7 1108.0,510.5 1105.9,515.8C1103.8,521.1 1100.8,530.5 1098.0,536.8C1095.2,543.1 1090.2,557.6 1084.8,563.2C1079.4,568.8 1061.5,576.1 1057.2,578.9C1052.9,581.7 1052.7,582.8 1052.7,584.2C1052.7,585.6 1054.0,587.4 1057.2,589.5C1060.4,591.6 1070.8,597.4 1076.9,600.0C1083.0,602.6 1096.3,607.3 1103.3,609.2C1110.3,611.1 1122.6,613.4 1129.6,614.5C1136.6,615.6 1146.8,616.6 1155.9,617.1C1165.0,617.6 1192.4,617.8 1198.0,617.9" fill="none" stroke="#fff" stroke-width="3.5" stroke-linejoin="round" stroke-linecap="round"/>
</g>
<path d="M1009.3,136.70000000000002 V620.0 H1260.3" fill="none" stroke="#000" stroke-width="1.5"/>
<line x1="1009.3" x2="1260.3" y1="137.4" y2="137.4" stroke="#000" stroke-width="1.5"/>
<line x1="1009.3" x2="1014.8" y1="620.0" y2="620.0" stroke="#000" stroke-width="1.3"/>
<text transform="translate(1003.30,626.90) scale(1.07,1)" text-anchor="end" font-size="14.0" font-weight="normal" fill="#000">0</text>
<line x1="1009.3" x2="1014.8" y1="563.2" y2="563.2" stroke="#000" stroke-width="1.3"/>
<text transform="translate(1003.30,570.12) scale(1.07,1)" text-anchor="end" font-size="14.0" font-weight="normal" fill="#000">2</text>
<line x1="1009.3" x2="1014.8" y1="506.4" y2="506.4" stroke="#000" stroke-width="1.3"/>
<text transform="translate(1003.30,513.35) scale(1.07,1)" text-anchor="end" font-size="14.0" font-weight="normal" fill="#000">4</text>
<line x1="1009.3" x2="1014.8" y1="449.7" y2="449.7" stroke="#000" stroke-width="1.3"/>
<text transform="translate(1003.30,456.57) scale(1.07,1)" text-anchor="end" font-size="14.0" font-weight="normal" fill="#000">6</text>
<line x1="1009.3" x2="1014.8" y1="392.9" y2="392.9" stroke="#000" stroke-width="1.3"/>
<text transform="translate(1003.30,399.79) scale(1.07,1)" text-anchor="end" font-size="14.0" font-weight="normal" fill="#000">8</text>
<line x1="1009.3" x2="1014.8" y1="336.1" y2="336.1" stroke="#000" stroke-width="1.3"/>
<text transform="translate(1003.30,343.02) scale(1.07,1)" text-anchor="end" font-size="14.0" font-weight="normal" fill="#000">10</text>
<line x1="1009.3" x2="1014.8" y1="279.3" y2="279.3" stroke="#000" stroke-width="1.3"/>
<text transform="translate(1003.30,286.24) scale(1.07,1)" text-anchor="end" font-size="14.0" font-weight="normal" fill="#000">12</text>
<line x1="1009.3" x2="1014.8" y1="222.6" y2="222.6" stroke="#000" stroke-width="1.3"/>
<text transform="translate(1003.30,229.46) scale(1.07,1)" text-anchor="end" font-size="14.0" font-weight="normal" fill="#000">14</text>
<line x1="1009.3" x2="1014.8" y1="165.8" y2="165.8" stroke="#000" stroke-width="1.3"/>
<text transform="translate(1003.30,172.69) scale(1.07,1)" text-anchor="end" font-size="14.0" font-weight="normal" fill="#000">16</text>
<line x1="1009.3" x2="1009.3" y1="620.0" y2="615.0" stroke="#000" stroke-width="1.3"/>
<text transform="translate(1008.70,639.30) scale(1.07,1)" text-anchor="middle" font-size="14.0" font-weight="normal" fill="#000">0</text>
<line x1="1059.4" x2="1059.4" y1="620.0" y2="615.0" stroke="#000" stroke-width="1.3"/>
<text transform="translate(1058.76,639.30) scale(1.07,1)" text-anchor="middle" font-size="14.0" font-weight="normal" fill="#000">0.2</text>
<line x1="1109.4" x2="1109.4" y1="620.0" y2="615.0" stroke="#000" stroke-width="1.3"/>
<text transform="translate(1108.82,639.30) scale(1.07,1)" text-anchor="middle" font-size="14.0" font-weight="normal" fill="#000">0.4</text>
<line x1="1159.5" x2="1159.5" y1="620.0" y2="615.0" stroke="#000" stroke-width="1.3"/>
<text transform="translate(1158.88,639.30) scale(1.07,1)" text-anchor="middle" font-size="14.0" font-weight="normal" fill="#000">0.6</text>
<line x1="1209.5" x2="1209.5" y1="620.0" y2="615.0" stroke="#000" stroke-width="1.3"/>
<text transform="translate(1208.94,639.30) scale(1.07,1)" text-anchor="middle" font-size="14.0" font-weight="normal" fill="#000">0.8</text>
<line x1="1259.6" x2="1259.6" y1="620.0" y2="615.0" stroke="#000" stroke-width="1.3"/>
<text transform="translate(1259.00,639.30) scale(1.07,1)" text-anchor="middle" font-size="14.0" font-weight="normal" fill="#000">1.0</text>
<path d="M1009.30,137.4v5 M1020.02,137.4v3 M1026.29,137.4v3 M1030.74,137.4v3 M1034.19,137.4v3 M1037.01,137.4v3 M1039.39,137.4v3 M1041.45,137.4v3 M1043.28,137.4v3 M1044.90,137.4v3 M1055.62,137.4v3 M1061.89,137.4v3 M1066.34,137.4v3 M1069.79,137.4v3 M1072.61,137.4v3 M1074.99,137.4v3 M1077.06,137.4v3 M1078.88,137.4v3 M1080.51,137.4v5 M1091.23,137.4v3 M1097.50,137.4v3 M1101.95,137.4v3 M1105.40,137.4v3 M1108.21,137.4v3 M1110.60,137.4v3 M1112.66,137.4v3 M1114.48,137.4v3 M1116.11,137.4v3 M1126.83,137.4v3 M1133.10,137.4v3 M1137.55,137.4v3 M1141.00,137.4v3 M1143.82,137.4v3 M1146.20,137.4v3 M1148.27,137.4v3 M1150.09,137.4v3 M1151.72,137.4v5 M1162.44,137.4v3 M1168.71,137.4v3 M1173.15,137.4v3 M1176.60,137.4v3 M1179.42,137.4v3 M1181.81,137.4v3 M1183.87,137.4v3 M1185.69,137.4v3 M1187.32,137.4v3 M1198.04,137.4v3 M1204.31,137.4v3 M1208.76,137.4v3 M1212.21,137.4v3 M1215.03,137.4v3 M1217.41,137.4v3 M1219.48,137.4v3 M1221.30,137.4v3 M1222.93,137.4v5 M1233.65,137.4v3 M1239.92,137.4v3 M1244.36,137.4v3 M1247.81,137.4v3 M1250.63,137.4v3 M1253.02,137.4v3 M1255.08,137.4v3 M1256.90,137.4v3 M1258.53,137.4v3" stroke="#000" stroke-width="1.3" fill="none"/>
<text transform="translate(1009.30,131.00) scale(1.07,1)" text-anchor="middle" font-size="14.0" font-weight="normal" fill="#000">10<tspan font-size="9.8" dy="-5.6">&#8211;5</tspan><tspan dy="5.6" font-size="14.0">&#8203;</tspan></text>
<text transform="translate(1080.51,131.00) scale(1.07,1)" text-anchor="middle" font-size="14.0" font-weight="normal" fill="#000">10<tspan font-size="9.8" dy="-5.6">&#8211;3</tspan><tspan dy="5.6" font-size="14.0">&#8203;</tspan></text>
<text transform="translate(1151.72,131.00) scale(1.07,1)" text-anchor="middle" font-size="14.0" font-weight="normal" fill="#000">10<tspan font-size="9.8" dy="-5.6">&#8211;1</tspan><tspan dy="5.6" font-size="14.0">&#8203;</tspan></text>
<text transform="translate(1222.93,131.00) scale(1.07,1)" text-anchor="middle" font-size="14.0" font-weight="normal" fill="#000">10<tspan font-size="9.8" dy="-5.6">1</tspan><tspan dy="5.6" font-size="14.0">&#8203;</tspan></text>
<text transform="translate(1126.40,86.50) scale(1.064,1)" text-anchor="middle" font-size="14.0" font-weight="normal" fill="#000">Southeastern Asia</text>
<text transform="translate(1126.40,108.50) scale(1.07,1)" text-anchor="middle" font-size="14.0" font-weight="normal" fill="#000">Total NPF rate (cm<tspan font-size="9.8" dy="-5.6">&#8211;3</tspan><tspan dy="5.6" font-size="14.0">&#8203;</tspan> s<tspan font-size="9.8" dy="-5.6">&#8211;1</tspan><tspan dy="5.6" font-size="14.0">&#8203;</tspan>)</text>
<text transform="translate(1140.50,658.50) scale(1.056,1)" text-anchor="middle" font-size="14.0" font-weight="normal" fill="#000">Relative fraction</text>
<text transform="translate(979.50,388.00) rotate(-90) scale(1.053,1)" text-anchor="middle" font-size="14.0" font-weight="normal" fill="#000">Height AGL (km)</text></svg>
</body></html>
